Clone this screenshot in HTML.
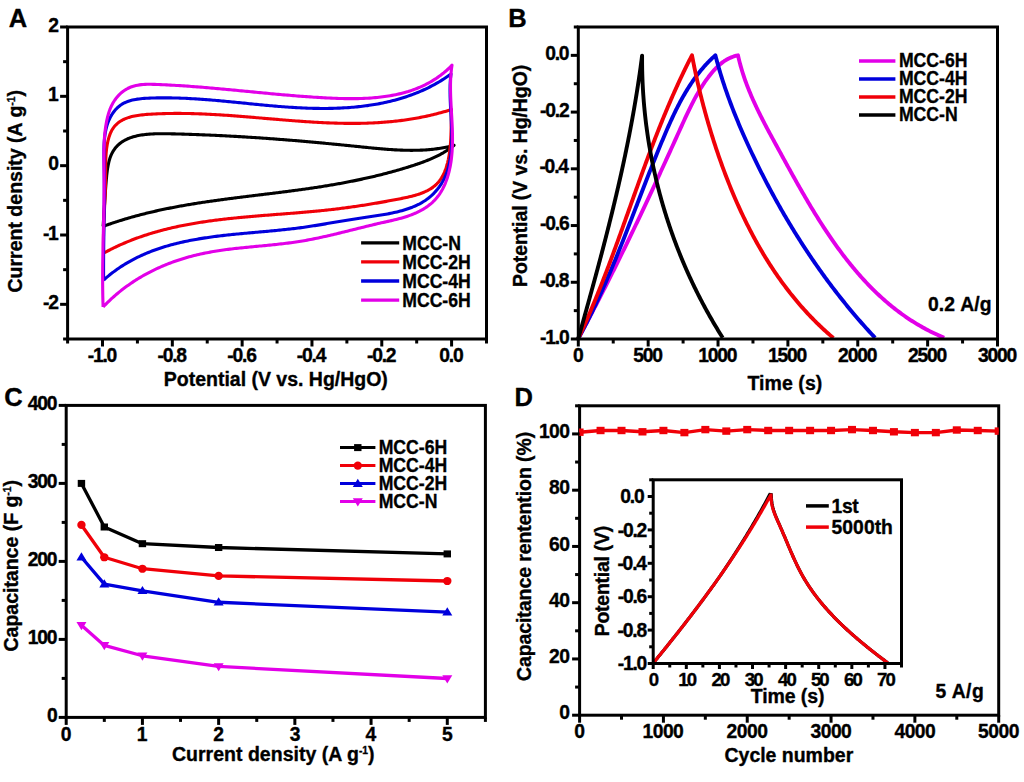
<!DOCTYPE html>
<html><head><meta charset="utf-8"><title>Figure</title>
<style>
html,body{margin:0;padding:0;background:#fff;}
svg{display:block;}
text{font-family:'Liberation Sans',Arial,sans-serif;font-weight:bold;stroke:#000;stroke-width:0.35px;stroke-linejoin:round;}
</style></head>
<body>
<svg width="1024" height="782" viewBox="0 0 1024 782">
<rect width="1024" height="782" fill="#fff"/>
<path d="M103.10,226.40 L103.21,224.86 L103.32,223.35 L103.42,221.85 L103.53,220.39 L103.62,218.94 L103.72,217.51 L103.81,216.10 L103.90,214.70 L103.99,213.32 L104.08,211.95 L104.16,210.59 L104.25,209.23 L104.33,207.89 L104.41,206.55 L104.50,205.22 L104.58,203.88 L104.66,202.55 L104.75,201.21 L104.83,199.88 L104.92,198.54 L105.01,197.19 L105.10,195.83 L105.19,194.47 L105.28,193.09 L105.38,191.70 L105.48,190.29 L105.58,188.87 L105.69,187.43 L105.80,185.97 L105.92,184.49 L106.03,182.99 L106.16,181.46 L106.29,179.91 L106.43,178.34 L106.57,176.76 L106.73,175.17 L106.91,173.57 L107.10,171.97 L107.31,170.38 L107.54,168.80 L107.80,167.22 L108.07,165.67 L108.38,164.14 L108.71,162.63 L109.08,161.15 L109.48,159.71 L109.91,158.31 L110.38,156.95 L110.89,155.64 L111.44,154.38 L112.03,153.17 L112.66,152.00 L113.33,150.88 L114.03,149.81 L114.76,148.78 L115.54,147.79 L116.34,146.85 L117.18,145.95 L118.05,145.09 L118.96,144.27 L119.89,143.49 L120.85,142.75 L121.85,142.04 L122.87,141.37 L123.92,140.74 L124.99,140.14 L126.10,139.57 L127.22,139.04 L128.38,138.54 L129.55,138.07 L130.75,137.63 L131.97,137.22 L133.21,136.84 L134.47,136.48 L135.75,136.15 L137.05,135.85 L138.37,135.57 L139.71,135.32 L141.06,135.08 L142.42,134.87 L143.81,134.68 L145.20,134.51 L146.61,134.36 L148.03,134.23 L149.46,134.12 L150.90,134.02 L152.36,133.93 L153.82,133.86 L155.29,133.81 L156.77,133.76 L158.25,133.73 L159.74,133.71 L161.24,133.70 L162.74,133.70 L164.24,133.71 L165.74,133.72 L167.25,133.74 L168.76,133.77 L170.27,133.80 L171.77,133.83 L173.28,133.87 L174.78,133.91 L176.29,133.94 L177.78,133.98 L179.28,134.03 L180.77,134.07 L182.26,134.11 L183.75,134.16 L185.24,134.20 L186.72,134.25 L188.20,134.29 L189.68,134.34 L191.15,134.39 L192.62,134.44 L194.09,134.49 L195.56,134.55 L197.03,134.60 L198.49,134.66 L199.95,134.71 L201.41,134.77 L202.87,134.83 L204.32,134.88 L205.77,134.94 L207.22,135.00 L208.67,135.07 L210.12,135.13 L211.56,135.19 L213.01,135.26 L214.45,135.32 L215.88,135.39 L217.32,135.46 L218.76,135.52 L220.19,135.59 L221.62,135.66 L223.05,135.74 L224.48,135.81 L225.91,135.88 L227.33,135.95 L228.75,136.03 L230.17,136.11 L231.59,136.18 L233.01,136.26 L234.43,136.34 L235.85,136.42 L237.26,136.50 L238.67,136.58 L240.09,136.66 L241.50,136.75 L242.91,136.83 L244.31,136.92 L245.72,137.00 L247.13,137.09 L248.53,137.18 L249.94,137.27 L251.34,137.36 L252.74,137.45 L254.14,137.54 L255.54,137.63 L256.94,137.72 L258.34,137.82 L259.74,137.91 L261.13,138.01 L262.53,138.10 L263.92,138.20 L265.32,138.30 L266.71,138.40 L268.10,138.50 L269.50,138.60 L270.89,138.70 L272.28,138.80 L273.67,138.91 L275.06,139.01 L276.45,139.12 L277.84,139.22 L279.23,139.33 L280.62,139.44 L282.01,139.55 L283.40,139.65 L284.79,139.76 L286.18,139.88 L287.56,139.99 L288.95,140.10 L290.34,140.21 L291.73,140.33 L293.12,140.44 L294.50,140.56 L295.89,140.67 L297.28,140.79 L298.67,140.91 L300.06,141.03 L301.45,141.14 L302.84,141.26 L304.22,141.39 L305.61,141.51 L307.00,141.63 L308.39,141.75 L309.79,141.88 L311.18,142.00 L312.57,142.13 L313.96,142.25 L315.35,142.38 L316.75,142.51 L318.14,142.63 L319.54,142.76 L320.93,142.89 L322.33,143.02 L323.72,143.15 L325.12,143.29 L326.52,143.42 L327.92,143.55 L329.32,143.68 L330.72,143.82 L332.12,143.95 L333.53,144.09 L334.93,144.23 L336.34,144.36 L337.74,144.50 L339.15,144.64 L340.56,144.78 L341.97,144.92 L343.38,145.06 L344.79,145.20 L346.20,145.34 L347.62,145.49 L349.04,145.63 L350.45,145.77 L351.87,145.92 L353.29,146.06 L354.72,146.21 L356.14,146.35 L357.56,146.50 L358.99,146.65 L360.42,146.80 L361.85,146.94 L363.28,147.09 L364.71,147.24 L366.15,147.39 L367.58,147.53 L369.02,147.68 L370.45,147.82 L371.89,147.96 L373.33,148.10 L374.77,148.24 L376.21,148.38 L377.65,148.51 L379.09,148.64 L380.53,148.77 L381.98,148.89 L383.42,149.02 L384.86,149.13 L386.30,149.25 L387.74,149.36 L389.19,149.46 L390.63,149.56 L392.07,149.65 L393.51,149.74 L394.95,149.83 L396.40,149.91 L397.84,149.98 L399.28,150.05 L400.71,150.11 L402.15,150.16 L403.59,150.21 L405.03,150.25 L406.46,150.28 L407.90,150.31 L409.33,150.32 L410.76,150.33 L412.19,150.33 L413.62,150.32 L415.05,150.31 L416.48,150.28 L417.90,150.25 L419.32,150.20 L420.74,150.15 L422.16,150.08 L423.58,150.01 L424.99,149.93 L426.41,149.83 L427.82,149.72 L429.23,149.61 L430.63,149.48 L432.04,149.34 L433.44,149.18 L434.84,149.02 L436.23,148.84 L437.63,148.65 L439.02,148.45 L440.40,148.23 L441.79,148.00 L443.17,147.76 L444.55,147.50 L445.92,147.23 L447.29,146.95 L448.66,146.65 L450.03,146.34 L451.39,146.01 L452.75,145.66 L454.10,145.30 L453.16,146.07 L452.20,146.81 L451.24,147.53 L450.27,148.24 L449.29,148.93 L448.30,149.61 L447.30,150.27 L446.30,150.92 L445.28,151.55 L444.26,152.17 L443.24,152.78 L442.20,153.37 L441.16,153.95 L440.11,154.52 L439.06,155.07 L438.00,155.61 L436.93,156.15 L435.86,156.67 L434.79,157.18 L433.70,157.68 L432.62,158.17 L431.52,158.65 L430.43,159.12 L429.33,159.59 L428.22,160.04 L427.11,160.49 L426.00,160.93 L424.88,161.36 L423.76,161.79 L422.63,162.20 L421.51,162.62 L420.38,163.02 L419.24,163.42 L418.11,163.82 L416.97,164.21 L415.83,164.59 L414.68,164.97 L413.54,165.35 L412.39,165.72 L411.24,166.09 L410.09,166.46 L408.94,166.82 L407.78,167.18 L406.63,167.54 L405.47,167.89 L404.32,168.24 L403.16,168.59 L402.00,168.94 L400.84,169.28 L399.68,169.62 L398.51,169.96 L397.35,170.29 L396.18,170.62 L395.01,170.95 L393.85,171.28 L392.68,171.60 L391.51,171.92 L390.34,172.24 L389.16,172.56 L387.99,172.87 L386.82,173.18 L385.64,173.49 L384.46,173.80 L383.29,174.10 L382.11,174.40 L380.93,174.70 L379.75,174.99 L378.57,175.28 L377.38,175.57 L376.20,175.86 L375.02,176.15 L373.83,176.43 L372.65,176.71 L371.46,176.99 L370.27,177.26 L369.08,177.53 L367.90,177.80 L366.71,178.07 L365.52,178.34 L364.33,178.60 L363.13,178.86 L361.94,179.12 L360.75,179.38 L359.56,179.63 L358.36,179.88 L357.17,180.13 L355.97,180.38 L354.78,180.63 L353.58,180.87 L352.38,181.11 L351.18,181.35 L349.99,181.59 L348.79,181.82 L347.59,182.05 L346.39,182.28 L345.19,182.51 L343.99,182.74 L342.79,182.96 L341.59,183.18 L340.39,183.41 L339.18,183.62 L337.98,183.84 L336.78,184.05 L335.58,184.27 L334.37,184.48 L333.17,184.68 L331.97,184.89 L330.76,185.09 L329.56,185.30 L328.35,185.50 L327.15,185.70 L325.95,185.89 L324.74,186.09 L323.54,186.28 L322.33,186.47 L321.13,186.66 L319.92,186.85 L318.71,187.04 L317.51,187.23 L316.30,187.41 L315.10,187.59 L313.89,187.77 L312.68,187.95 L311.48,188.13 L310.27,188.31 L309.06,188.48 L307.86,188.66 L306.65,188.83 L305.44,189.00 L304.24,189.17 L303.03,189.34 L301.82,189.51 L300.61,189.67 L299.41,189.84 L298.20,190.00 L296.99,190.17 L295.78,190.33 L294.58,190.49 L293.37,190.65 L292.16,190.81 L290.95,190.97 L289.74,191.13 L288.54,191.28 L287.33,191.44 L286.12,191.60 L284.91,191.75 L283.70,191.90 L282.50,192.06 L281.29,192.21 L280.08,192.36 L278.87,192.52 L277.66,192.67 L276.46,192.82 L275.25,192.97 L274.04,193.12 L272.83,193.27 L271.62,193.42 L270.42,193.56 L269.21,193.71 L268.00,193.86 L266.79,194.01 L265.59,194.16 L264.38,194.30 L263.17,194.45 L261.96,194.60 L260.76,194.75 L259.55,194.89 L258.34,195.04 L257.14,195.19 L255.93,195.33 L254.72,195.48 L253.52,195.63 L252.31,195.78 L251.10,195.92 L249.90,196.07 L248.69,196.22 L247.49,196.37 L246.28,196.52 L245.07,196.67 L243.87,196.82 L242.66,196.97 L241.46,197.12 L240.25,197.27 L239.05,197.42 L237.84,197.57 L236.64,197.72 L235.44,197.88 L234.23,198.03 L233.03,198.18 L231.83,198.34 L230.62,198.49 L229.42,198.65 L228.22,198.81 L227.01,198.96 L225.81,199.12 L224.61,199.28 L223.41,199.44 L222.21,199.61 L221.01,199.77 L219.80,199.93 L218.60,200.10 L217.40,200.26 L216.20,200.43 L215.00,200.60 L213.80,200.76 L212.60,200.93 L211.41,201.11 L210.21,201.28 L209.01,201.45 L207.81,201.63 L206.61,201.80 L205.41,201.98 L204.22,202.16 L203.02,202.34 L201.82,202.53 L200.63,202.71 L199.43,202.89 L198.24,203.08 L197.04,203.27 L195.85,203.46 L194.65,203.65 L193.46,203.85 L192.27,204.04 L191.07,204.24 L189.88,204.44 L188.69,204.64 L187.50,204.84 L186.31,205.05 L185.11,205.25 L183.92,205.46 L182.73,205.67 L181.54,205.88 L180.36,206.10 L179.17,206.31 L177.98,206.53 L176.79,206.75 L175.60,206.98 L174.42,207.20 L173.23,207.43 L172.04,207.66 L170.86,207.89 L169.67,208.13 L168.49,208.36 L167.30,208.60 L166.12,208.84 L164.94,209.09 L163.75,209.33 L162.57,209.58 L161.39,209.84 L160.21,210.09 L159.03,210.35 L157.85,210.61 L156.67,210.87 L155.49,211.13 L154.31,211.40 L153.14,211.67 L151.96,211.95 L150.78,212.22 L149.61,212.50 L148.43,212.78 L147.26,213.07 L146.08,213.36 L144.91,213.65 L143.73,213.94 L142.56,214.24 L141.39,214.54 L140.22,214.84 L139.05,215.15 L137.88,215.46 L136.71,215.77 L135.54,216.09 L134.37,216.41 L133.21,216.73 L132.04,217.05 L130.87,217.38 L129.71,217.72 L128.54,218.05 L127.38,218.39 L126.22,218.74 L125.05,219.08 L123.89,219.44 L122.73,219.79 L121.57,220.15 L120.41,220.51 L119.25,220.87 L118.09,221.24 L116.93,221.62 L115.78,221.99 L114.62,222.37 L113.46,222.76 L112.31,223.15 L111.16,223.54 L110.00,223.93 L108.85,224.33 L107.70,224.74 L106.55,225.15 L105.40,225.56 L104.25,225.98 L103.10,226.40" fill="none" stroke="#000" stroke-width="3.1" stroke-linejoin="round" stroke-linecap="butt"/>
<path d="M103.60,253.20 L103.55,251.51 L103.52,249.83 L103.49,248.17 L103.46,246.52 L103.45,244.88 L103.44,243.24 L103.44,241.62 L103.45,240.01 L103.46,238.41 L103.48,236.82 L103.50,235.24 L103.53,233.66 L103.56,232.10 L103.60,230.54 L103.64,228.98 L103.69,227.43 L103.74,225.89 L103.79,224.35 L103.85,222.82 L103.91,221.29 L103.98,219.77 L104.04,218.25 L104.11,216.73 L104.18,215.21 L104.25,213.70 L104.32,212.18 L104.39,210.67 L104.47,209.16 L104.54,207.65 L104.61,206.13 L104.69,204.62 L104.76,203.10 L104.83,201.58 L104.90,200.06 L104.97,198.54 L105.04,197.01 L105.10,195.48 L105.17,193.94 L105.23,192.40 L105.29,190.86 L105.34,189.31 L105.39,187.75 L105.44,186.18 L105.48,184.61 L105.52,183.03 L105.55,181.44 L105.58,179.84 L105.60,178.23 L105.62,176.62 L105.63,174.99 L105.64,173.35 L105.64,171.70 L105.64,170.05 L105.65,168.38 L105.65,166.71 L105.67,165.04 L105.69,163.36 L105.73,161.67 L105.77,159.98 L105.84,158.29 L105.92,156.60 L106.02,154.91 L106.14,153.22 L106.29,151.53 L106.47,149.84 L106.68,148.16 L106.92,146.48 L107.19,144.80 L107.50,143.13 L107.85,141.48 L108.24,139.84 L108.67,138.24 L109.15,136.67 L109.67,135.13 L110.25,133.65 L110.87,132.22 L111.55,130.84 L112.28,129.54 L113.06,128.31 L113.91,127.14 L114.80,126.05 L115.74,125.02 L116.74,124.05 L117.78,123.15 L118.86,122.30 L119.99,121.51 L121.16,120.78 L122.36,120.10 L123.61,119.47 L124.89,118.88 L126.21,118.34 L127.55,117.85 L128.93,117.40 L130.33,116.99 L131.76,116.61 L133.22,116.27 L134.69,115.96 L136.19,115.68 L137.70,115.44 L139.24,115.21 L140.78,115.01 L142.34,114.84 L143.91,114.68 L145.49,114.54 L147.08,114.41 L148.67,114.30 L150.27,114.20 L151.86,114.10 L153.46,114.02 L155.06,113.94 L156.65,113.86 L158.25,113.79 L159.85,113.73 L161.44,113.68 L163.04,113.63 L164.63,113.58 L166.23,113.54 L167.82,113.51 L169.41,113.48 L171.01,113.46 L172.60,113.44 L174.19,113.42 L175.79,113.42 L177.38,113.41 L178.97,113.42 L180.56,113.42 L182.15,113.43 L183.74,113.45 L185.33,113.47 L186.92,113.50 L188.51,113.53 L190.10,113.56 L191.69,113.60 L193.28,113.64 L194.87,113.69 L196.46,113.74 L198.04,113.79 L199.63,113.85 L201.22,113.91 L202.80,113.97 L204.39,114.04 L205.98,114.11 L207.56,114.19 L209.15,114.27 L210.73,114.35 L212.32,114.43 L213.90,114.52 L215.49,114.61 L217.07,114.70 L218.65,114.80 L220.24,114.90 L221.82,115.00 L223.40,115.10 L224.98,115.20 L226.57,115.31 L228.15,115.42 L229.73,115.53 L231.31,115.65 L232.89,115.76 L234.47,115.88 L236.05,116.00 L237.63,116.12 L239.21,116.24 L240.79,116.37 L242.37,116.49 L243.94,116.62 L245.52,116.75 L247.10,116.88 L248.68,117.01 L250.26,117.14 L251.83,117.27 L253.41,117.40 L254.99,117.53 L256.56,117.67 L258.14,117.80 L259.71,117.93 L261.29,118.07 L262.86,118.20 L264.44,118.34 L266.01,118.47 L267.59,118.61 L269.16,118.74 L270.73,118.88 L272.31,119.01 L273.88,119.15 L275.45,119.28 L277.02,119.41 L278.60,119.55 L280.17,119.68 L281.74,119.81 L283.31,119.94 L284.88,120.07 L286.45,120.19 L288.02,120.32 L289.59,120.44 L291.16,120.57 L292.73,120.69 L294.30,120.81 L295.87,120.93 L297.44,121.05 L299.00,121.16 L300.57,121.28 L302.14,121.39 L303.71,121.50 L305.28,121.61 L306.84,121.71 L308.41,121.81 L309.98,121.92 L311.54,122.01 L313.11,122.11 L314.67,122.20 L316.24,122.29 L317.80,122.38 L319.37,122.46 L320.93,122.54 L322.50,122.62 L324.06,122.70 L325.62,122.77 L327.19,122.84 L328.75,122.90 L330.31,122.96 L331.88,123.02 L333.44,123.07 L335.00,123.12 L336.56,123.17 L338.13,123.21 L339.69,123.25 L341.25,123.28 L342.81,123.31 L344.37,123.33 L345.93,123.36 L347.49,123.37 L349.05,123.38 L350.61,123.39 L352.17,123.39 L353.73,123.39 L355.29,123.38 L356.85,123.37 L358.40,123.35 L359.96,123.33 L361.52,123.30 L363.08,123.26 L364.64,123.22 L366.19,123.18 L367.75,123.13 L369.31,123.07 L370.86,123.01 L372.42,122.94 L373.98,122.86 L375.53,122.78 L377.09,122.70 L378.64,122.60 L380.20,122.50 L381.75,122.40 L383.31,122.28 L384.86,122.17 L386.42,122.04 L387.97,121.91 L389.52,121.77 L391.08,121.62 L392.63,121.47 L394.18,121.31 L395.74,121.14 L397.29,120.96 L398.84,120.78 L400.39,120.59 L401.95,120.39 L403.50,120.18 L405.05,119.97 L406.60,119.75 L408.15,119.52 L409.70,119.28 L411.25,119.04 L412.80,118.78 L414.36,118.52 L415.91,118.25 L417.46,117.97 L419.00,117.68 L420.55,117.39 L422.10,117.08 L423.65,116.77 L425.20,116.44 L426.75,116.11 L428.30,115.77 L429.85,115.42 L431.39,115.06 L432.94,114.69 L434.49,114.31 L436.04,113.92 L437.58,113.53 L439.13,113.12 L440.68,112.70 L442.23,112.28 L443.77,111.84 L445.32,111.39 L446.86,110.93 L448.41,110.47 L449.96,109.99 L451.50,109.50 L451.46,110.72 L451.42,111.96 L451.39,113.22 L451.36,114.51 L451.34,115.82 L451.32,117.16 L451.30,118.51 L451.28,119.88 L451.26,121.27 L451.24,122.68 L451.22,124.10 L451.20,125.53 L451.18,126.98 L451.15,128.44 L451.12,129.91 L451.08,131.39 L451.03,132.88 L450.98,134.37 L450.92,135.88 L450.85,137.38 L450.78,138.89 L450.69,140.40 L450.59,141.91 L450.48,143.43 L450.36,144.94 L450.22,146.44 L450.07,147.95 L449.91,149.45 L449.73,150.94 L449.53,152.43 L449.31,153.91 L449.08,155.38 L448.83,156.84 L448.56,158.28 L448.27,159.72 L447.95,161.13 L447.62,162.54 L447.26,163.92 L446.88,165.29 L446.47,166.64 L446.04,167.97 L445.58,169.28 L445.09,170.57 L444.58,171.83 L444.04,173.06 L443.47,174.28 L442.87,175.46 L442.24,176.61 L441.57,177.74 L440.88,178.83 L440.15,179.90 L439.38,180.93 L438.59,181.92 L437.75,182.88 L436.88,183.80 L435.97,184.69 L435.03,185.53 L434.05,186.35 L433.04,187.12 L432.00,187.87 L430.92,188.58 L429.81,189.26 L428.68,189.91 L427.52,190.53 L426.33,191.12 L425.12,191.69 L423.89,192.23 L422.63,192.75 L421.35,193.24 L420.05,193.72 L418.74,194.17 L417.41,194.60 L416.06,195.01 L414.70,195.41 L413.32,195.79 L411.94,196.15 L410.54,196.50 L409.13,196.84 L407.72,197.17 L406.30,197.48 L404.87,197.79 L403.44,198.09 L402.01,198.38 L400.57,198.66 L399.14,198.95 L397.71,199.22 L396.28,199.50 L394.85,199.77 L393.42,200.04 L392.00,200.31 L390.58,200.57 L389.16,200.84 L387.74,201.10 L386.32,201.36 L384.91,201.61 L383.50,201.87 L382.09,202.12 L380.68,202.37 L379.27,202.61 L377.86,202.86 L376.46,203.10 L375.06,203.34 L373.66,203.57 L372.25,203.81 L370.86,204.04 L369.46,204.27 L368.06,204.49 L366.66,204.72 L365.27,204.94 L363.87,205.16 L362.48,205.38 L361.09,205.59 L359.70,205.80 L358.30,206.01 L356.91,206.22 L355.52,206.42 L354.13,206.63 L352.74,206.83 L351.35,207.02 L349.96,207.22 L348.57,207.41 L347.18,207.60 L345.79,207.79 L344.40,207.97 L343.01,208.15 L341.61,208.33 L340.22,208.51 L338.83,208.68 L337.44,208.85 L336.04,209.02 L334.65,209.19 L333.26,209.35 L331.86,209.51 L330.46,209.67 L329.07,209.83 L327.67,209.98 L326.27,210.13 L324.87,210.28 L323.47,210.43 L322.07,210.57 L320.66,210.72 L319.26,210.86 L317.86,210.99 L316.45,211.13 L315.05,211.26 L313.64,211.40 L312.23,211.53 L310.82,211.65 L309.42,211.78 L308.01,211.91 L306.60,212.03 L305.19,212.15 L303.78,212.28 L302.36,212.40 L300.95,212.51 L299.54,212.63 L298.13,212.75 L296.71,212.86 L295.30,212.98 L293.88,213.09 L292.47,213.21 L291.05,213.32 L289.64,213.43 L288.22,213.54 L286.81,213.65 L285.39,213.76 L283.97,213.87 L282.56,213.98 L281.14,214.09 L279.72,214.20 L278.31,214.31 L276.89,214.42 L275.47,214.53 L274.05,214.64 L272.64,214.75 L271.22,214.86 L269.80,214.97 L268.38,215.08 L266.96,215.20 L265.55,215.31 L264.13,215.42 L262.71,215.54 L261.29,215.65 L259.88,215.77 L258.46,215.88 L257.04,216.00 L255.63,216.12 L254.21,216.24 L252.79,216.36 L251.38,216.48 L249.96,216.60 L248.54,216.73 L247.13,216.85 L245.71,216.98 L244.30,217.11 L242.89,217.24 L241.47,217.37 L240.06,217.51 L238.65,217.65 L237.23,217.78 L235.82,217.93 L234.41,218.07 L233.00,218.21 L231.59,218.36 L230.18,218.51 L228.77,218.66 L227.36,218.82 L225.96,218.98 L224.55,219.13 L223.14,219.30 L221.74,219.46 L220.33,219.63 L218.93,219.80 L217.53,219.98 L216.12,220.15 L214.72,220.33 L213.32,220.52 L211.92,220.70 L210.52,220.89 L209.13,221.09 L207.73,221.28 L206.33,221.49 L204.94,221.69 L203.55,221.90 L202.15,222.11 L200.76,222.32 L199.37,222.54 L197.98,222.77 L196.59,222.99 L195.21,223.23 L193.82,223.46 L192.43,223.70 L191.05,223.95 L189.67,224.20 L188.29,224.45 L186.91,224.71 L185.53,224.97 L184.15,225.24 L182.78,225.51 L181.40,225.78 L180.03,226.07 L178.66,226.35 L177.29,226.64 L175.92,226.94 L174.55,227.24 L173.19,227.55 L171.83,227.86 L170.46,228.18 L169.10,228.50 L167.74,228.83 L166.39,229.17 L165.03,229.51 L163.68,229.85 L162.32,230.20 L160.97,230.56 L159.62,230.92 L158.28,231.29 L156.93,231.67 L155.59,232.05 L154.25,232.44 L152.91,232.83 L151.57,233.23 L150.23,233.64 L148.90,234.06 L147.57,234.48 L146.24,234.90 L144.91,235.34 L143.58,235.78 L142.26,236.22 L140.94,236.68 L139.62,237.14 L138.30,237.61 L136.98,238.08 L135.67,238.57 L134.36,239.06 L133.05,239.55 L131.74,240.06 L130.44,240.57 L129.13,241.09 L127.83,241.62 L126.54,242.16 L125.24,242.70 L123.95,243.25 L122.66,243.81 L121.37,244.38 L120.08,244.95 L118.80,245.53 L117.52,246.13 L116.24,246.73 L114.96,247.33 L113.69,247.95 L112.42,248.58 L111.15,249.21 L109.89,249.85 L108.62,250.50 L107.36,251.16 L106.10,251.83 L104.85,252.51 L103.60,253.20" fill="none" stroke="#f00008" stroke-width="3.1" stroke-linejoin="round" stroke-linecap="butt"/>
<path d="M103.60,280.10 L103.59,278.26 L103.58,276.44 L103.57,274.62 L103.56,272.81 L103.56,271.01 L103.56,269.22 L103.56,267.43 L103.57,265.66 L103.57,263.89 L103.58,262.13 L103.59,260.37 L103.60,258.62 L103.61,256.88 L103.62,255.14 L103.64,253.41 L103.65,251.68 L103.67,249.96 L103.69,248.24 L103.71,246.53 L103.73,244.82 L103.75,243.11 L103.77,241.41 L103.79,239.71 L103.82,238.02 L103.84,236.33 L103.87,234.64 L103.89,232.95 L103.91,231.26 L103.94,229.58 L103.96,227.89 L103.99,226.21 L104.01,224.53 L104.04,222.85 L104.06,221.17 L104.09,219.49 L104.11,217.80 L104.13,216.12 L104.15,214.44 L104.17,212.75 L104.19,211.07 L104.21,209.38 L104.23,207.69 L104.25,205.99 L104.27,204.30 L104.28,202.60 L104.29,200.90 L104.31,199.19 L104.32,197.48 L104.32,195.77 L104.33,194.05 L104.34,192.32 L104.34,190.60 L104.34,188.86 L104.34,187.12 L104.34,185.38 L104.33,183.63 L104.32,181.87 L104.31,180.11 L104.30,178.33 L104.28,176.55 L104.27,174.77 L104.24,172.97 L104.22,171.17 L104.19,169.36 L104.16,167.54 L104.13,165.71 L104.09,163.87 L104.06,162.03 L104.02,160.18 L103.99,158.32 L103.96,156.46 L103.94,154.60 L103.94,152.74 L103.94,150.88 L103.96,149.02 L104.01,147.17 L104.07,145.33 L104.15,143.50 L104.27,141.67 L104.41,139.86 L104.58,138.07 L104.78,136.29 L105.02,134.52 L105.30,132.78 L105.62,131.05 L105.99,129.35 L106.40,127.67 L106.85,126.02 L107.36,124.40 L107.91,122.80 L108.50,121.24 L109.15,119.72 L109.85,118.23 L110.59,116.79 L111.38,115.38 L112.22,114.03 L113.11,112.71 L114.05,111.45 L115.04,110.24 L116.07,109.09 L117.16,107.99 L118.30,106.95 L119.49,105.97 L120.72,105.05 L122.01,104.20 L123.35,103.42 L124.74,102.71 L126.18,102.07 L127.66,101.49 L129.19,100.97 L130.76,100.51 L132.36,100.10 L133.99,99.74 L135.65,99.42 L137.34,99.15 L139.06,98.92 L140.79,98.72 L142.54,98.55 L144.31,98.41 L146.08,98.30 L147.87,98.20 L149.65,98.12 L151.44,98.06 L153.23,98.00 L155.02,97.95 L156.81,97.92 L158.59,97.89 L160.37,97.86 L162.15,97.85 L163.92,97.84 L165.70,97.85 L167.47,97.86 L169.24,97.87 L171.01,97.90 L172.78,97.93 L174.55,97.96 L176.31,98.01 L178.08,98.06 L179.84,98.12 L181.60,98.18 L183.36,98.25 L185.11,98.32 L186.87,98.41 L188.62,98.49 L190.37,98.58 L192.13,98.68 L193.88,98.78 L195.62,98.89 L197.37,99.00 L199.12,99.12 L200.86,99.24 L202.61,99.36 L204.35,99.49 L206.09,99.62 L207.83,99.76 L209.57,99.90 L211.31,100.04 L213.05,100.18 L214.78,100.33 L216.52,100.48 L218.25,100.64 L219.99,100.80 L221.72,100.95 L223.46,101.12 L225.19,101.28 L226.92,101.44 L228.65,101.61 L230.38,101.78 L232.11,101.95 L233.84,102.12 L235.57,102.29 L237.29,102.46 L239.02,102.64 L240.75,102.81 L242.48,102.98 L244.20,103.16 L245.93,103.33 L247.65,103.51 L249.38,103.68 L251.10,103.85 L252.83,104.03 L254.56,104.20 L256.28,104.37 L258.01,104.54 L259.73,104.71 L261.46,104.87 L263.18,105.04 L264.91,105.20 L266.63,105.36 L268.36,105.52 L270.08,105.68 L271.81,105.83 L273.53,105.98 L275.26,106.13 L276.99,106.28 L278.71,106.42 L280.44,106.56 L282.17,106.69 L283.90,106.82 L285.63,106.95 L287.36,107.07 L289.09,107.19 L290.82,107.31 L292.55,107.42 L294.28,107.53 L296.01,107.63 L297.74,107.72 L299.48,107.81 L301.21,107.90 L302.95,107.98 L304.69,108.05 L306.42,108.12 L308.16,108.19 L309.90,108.24 L311.64,108.29 L313.38,108.33 L315.12,108.37 L316.87,108.40 L318.61,108.42 L320.36,108.44 L322.11,108.45 L323.85,108.45 L325.60,108.44 L327.35,108.43 L329.10,108.40 L330.85,108.37 L332.60,108.33 L334.35,108.29 L336.10,108.23 L337.85,108.17 L339.60,108.09 L341.35,108.01 L343.10,107.92 L344.85,107.82 L346.60,107.71 L348.35,107.59 L350.10,107.46 L351.84,107.32 L353.58,107.17 L355.33,107.01 L357.07,106.84 L358.81,106.66 L360.55,106.46 L362.28,106.26 L364.01,106.05 L365.75,105.82 L367.48,105.59 L369.20,105.34 L370.93,105.08 L372.65,104.81 L374.37,104.53 L376.08,104.23 L377.80,103.93 L379.50,103.61 L381.21,103.27 L382.91,102.93 L384.61,102.57 L386.31,102.20 L388.00,101.82 L389.69,101.42 L391.37,101.01 L393.05,100.59 L394.72,100.15 L396.39,99.70 L398.06,99.24 L399.72,98.76 L401.38,98.26 L403.03,97.75 L404.67,97.23 L406.31,96.69 L407.95,96.14 L409.58,95.57 L411.20,94.99 L412.82,94.39 L414.43,93.78 L416.04,93.15 L417.64,92.51 L419.23,91.84 L420.82,91.17 L422.40,90.47 L423.97,89.76 L425.54,89.04 L427.10,88.29 L428.65,87.53 L430.20,86.76 L431.73,85.96 L433.27,85.15 L434.79,84.32 L436.30,83.47 L437.81,82.61 L439.31,81.73 L440.80,80.83 L442.28,79.91 L443.76,78.97 L445.22,78.01 L446.68,77.04 L448.13,76.04 L449.57,75.03 L451.00,74.00 L450.82,75.38 L450.65,76.78 L450.51,78.20 L450.39,79.63 L450.29,81.08 L450.20,82.55 L450.13,84.03 L450.08,85.53 L450.05,87.04 L450.02,88.56 L450.02,90.10 L450.02,91.65 L450.04,93.21 L450.07,94.78 L450.10,96.37 L450.15,97.96 L450.21,99.57 L450.27,101.18 L450.34,102.80 L450.41,104.43 L450.49,106.07 L450.58,107.71 L450.66,109.36 L450.75,111.02 L450.84,112.68 L450.93,114.34 L451.02,116.01 L451.11,117.68 L451.19,119.35 L451.28,121.03 L451.35,122.71 L451.43,124.39 L451.50,126.07 L451.56,127.74 L451.61,129.42 L451.65,131.10 L451.69,132.77 L451.71,134.44 L451.72,136.11 L451.72,137.78 L451.71,139.44 L451.69,141.09 L451.64,142.74 L451.59,144.39 L451.51,146.03 L451.42,147.66 L451.31,149.28 L451.18,150.89 L451.04,152.50 L450.87,154.09 L450.67,155.68 L450.46,157.25 L450.22,158.82 L449.96,160.37 L449.67,161.91 L449.35,163.43 L449.01,164.94 L448.64,166.44 L448.24,167.92 L447.81,169.39 L447.35,170.84 L446.86,172.28 L446.33,173.70 L445.77,175.10 L445.18,176.48 L444.55,177.84 L443.90,179.19 L443.20,180.51 L442.48,181.81 L441.73,183.09 L440.94,184.35 L440.12,185.59 L439.28,186.80 L438.40,187.99 L437.49,189.16 L436.55,190.30 L435.59,191.42 L434.59,192.50 L433.57,193.57 L432.52,194.60 L431.44,195.61 L430.33,196.58 L429.20,197.53 L428.04,198.45 L426.85,199.34 L425.64,200.19 L424.40,201.02 L423.14,201.81 L421.86,202.58 L420.55,203.32 L419.22,204.03 L417.87,204.71 L416.49,205.37 L415.10,206.00 L413.69,206.60 L412.26,207.19 L410.81,207.75 L409.35,208.28 L407.87,208.80 L406.37,209.30 L404.86,209.77 L403.34,210.23 L401.80,210.67 L400.25,211.09 L398.69,211.49 L397.12,211.88 L395.53,212.25 L393.94,212.61 L392.34,212.95 L390.73,213.29 L389.12,213.61 L387.49,213.92 L385.87,214.21 L384.23,214.50 L382.60,214.78 L380.96,215.05 L379.32,215.32 L377.67,215.58 L376.03,215.83 L374.38,216.08 L372.73,216.32 L371.09,216.56 L369.45,216.80 L367.81,217.03 L366.17,217.27 L364.54,217.50 L362.91,217.73 L361.29,217.97 L359.68,218.21 L358.07,218.45 L356.47,218.69 L354.87,218.94 L353.28,219.19 L351.70,219.44 L350.13,219.69 L348.56,219.95 L346.99,220.20 L345.43,220.46 L343.88,220.72 L342.32,220.98 L340.78,221.24 L339.24,221.50 L337.70,221.76 L336.16,222.03 L334.63,222.29 L333.10,222.55 L331.57,222.81 L330.05,223.07 L328.53,223.33 L327.01,223.59 L325.49,223.85 L323.97,224.10 L322.46,224.36 L320.94,224.61 L319.43,224.86 L317.91,225.11 L316.40,225.35 L314.88,225.60 L313.37,225.84 L311.85,226.07 L310.34,226.31 L308.82,226.54 L307.30,226.77 L305.77,226.99 L304.25,227.21 L302.72,227.42 L301.19,227.63 L299.66,227.84 L298.13,228.04 L296.59,228.23 L295.05,228.43 L293.50,228.61 L291.95,228.80 L290.40,228.98 L288.85,229.15 L287.30,229.33 L285.74,229.50 L284.18,229.66 L282.62,229.83 L281.05,229.99 L279.49,230.14 L277.92,230.30 L276.35,230.45 L274.78,230.60 L273.20,230.75 L271.63,230.90 L270.05,231.05 L268.47,231.19 L266.89,231.34 L265.31,231.48 L263.73,231.62 L262.15,231.76 L260.56,231.90 L258.98,232.04 L257.39,232.18 L255.80,232.32 L254.21,232.46 L252.63,232.60 L251.04,232.74 L249.45,232.89 L247.86,233.03 L246.27,233.17 L244.67,233.32 L243.08,233.47 L241.49,233.62 L239.90,233.77 L238.31,233.92 L236.72,234.07 L235.13,234.23 L233.54,234.39 L231.95,234.55 L230.36,234.72 L228.77,234.88 L227.18,235.06 L225.60,235.23 L224.01,235.41 L222.42,235.59 L220.84,235.78 L219.26,235.97 L217.67,236.16 L216.09,236.36 L214.51,236.56 L212.94,236.77 L211.36,236.99 L209.78,237.20 L208.21,237.43 L206.64,237.66 L205.07,237.89 L203.50,238.13 L201.94,238.38 L200.37,238.63 L198.81,238.89 L197.25,239.16 L195.70,239.43 L194.14,239.71 L192.59,240.00 L191.04,240.29 L189.50,240.59 L187.95,240.90 L186.41,241.22 L184.87,241.55 L183.34,241.88 L181.81,242.22 L180.28,242.57 L178.75,242.93 L177.23,243.30 L175.71,243.67 L174.20,244.06 L172.69,244.45 L171.18,244.86 L169.68,245.27 L168.18,245.70 L166.68,246.13 L165.19,246.58 L163.70,247.03 L162.22,247.50 L160.74,247.98 L159.26,248.46 L157.79,248.96 L156.33,249.47 L154.87,250.00 L153.41,250.53 L151.96,251.07 L150.51,251.63 L149.07,252.20 L147.63,252.78 L146.20,253.38 L144.77,253.99 L143.35,254.61 L141.94,255.24 L140.53,255.89 L139.12,256.55 L137.72,257.22 L136.33,257.91 L134.94,258.61 L133.56,259.32 L132.18,260.05 L130.81,260.80 L129.45,261.56 L128.09,262.33 L126.74,263.12 L125.40,263.93 L124.06,264.75 L122.73,265.58 L121.40,266.43 L120.09,267.30 L118.77,268.18 L117.47,269.08 L116.17,270.00 L114.88,270.93 L113.60,271.88 L112.32,272.85 L111.05,273.83 L109.79,274.83 L108.54,275.85 L107.29,276.88 L106.05,277.94 L104.82,279.01 L103.60,280.10" fill="none" stroke="#0000dc" stroke-width="3.1" stroke-linejoin="round" stroke-linecap="butt"/>
<path d="M103.10,307.00 L103.04,305.08 L102.98,303.17 L102.92,301.26 L102.88,299.35 L102.83,297.45 L102.79,295.55 L102.76,293.65 L102.73,291.75 L102.70,289.86 L102.68,287.97 L102.67,286.08 L102.65,284.19 L102.64,282.31 L102.64,280.43 L102.64,278.55 L102.64,276.67 L102.64,274.80 L102.65,272.92 L102.66,271.05 L102.68,269.18 L102.69,267.31 L102.71,265.45 L102.73,263.58 L102.76,261.72 L102.78,259.85 L102.81,257.99 L102.84,256.13 L102.88,254.27 L102.91,252.41 L102.94,250.56 L102.98,248.70 L103.02,246.84 L103.06,244.99 L103.10,243.13 L103.14,241.28 L103.18,239.42 L103.22,237.57 L103.26,235.71 L103.31,233.86 L103.35,232.00 L103.39,230.15 L103.43,228.30 L103.48,226.44 L103.52,224.59 L103.56,222.73 L103.60,220.87 L103.64,219.02 L103.68,217.16 L103.72,215.30 L103.75,213.44 L103.79,211.58 L103.82,209.72 L103.86,207.86 L103.89,205.99 L103.91,204.13 L103.94,202.26 L103.97,200.39 L103.99,198.52 L104.01,196.65 L104.02,194.78 L104.04,192.90 L104.05,191.03 L104.06,189.15 L104.06,187.27 L104.07,185.38 L104.07,183.50 L104.06,181.61 L104.05,179.72 L104.04,177.83 L104.02,175.93 L104.00,174.03 L103.98,172.13 L103.95,170.23 L103.93,168.32 L103.90,166.42 L103.88,164.51 L103.86,162.60 L103.84,160.68 L103.83,158.77 L103.83,156.86 L103.83,154.94 L103.84,153.03 L103.87,151.11 L103.90,149.20 L103.95,147.29 L104.02,145.37 L104.10,143.46 L104.19,141.55 L104.31,139.64 L104.44,137.73 L104.60,135.82 L104.77,133.91 L104.98,132.01 L105.20,130.11 L105.45,128.21 L105.73,126.31 L106.04,124.42 L106.38,122.53 L106.75,120.65 L107.15,118.77 L107.59,116.91 L108.08,115.07 L108.61,113.24 L109.19,111.45 L109.82,109.69 L110.51,107.97 L111.26,106.28 L112.07,104.64 L112.94,103.05 L113.87,101.51 L114.85,100.02 L115.89,98.58 L116.99,97.20 L118.15,95.88 L119.35,94.62 L120.61,93.42 L121.93,92.29 L123.29,91.23 L124.71,90.24 L126.17,89.33 L127.68,88.49 L129.25,87.73 L130.85,87.05 L132.51,86.46 L134.21,85.95 L135.95,85.52 L137.73,85.17 L139.55,84.88 L141.40,84.66 L143.27,84.50 L145.17,84.39 L147.09,84.32 L149.02,84.30 L150.97,84.30 L152.93,84.34 L154.89,84.39 L156.85,84.46 L158.81,84.54 L160.77,84.62 L162.72,84.71 L164.67,84.80 L166.61,84.90 L168.55,85.00 L170.48,85.10 L172.41,85.21 L174.33,85.32 L176.25,85.43 L178.17,85.54 L180.08,85.66 L181.99,85.79 L183.89,85.91 L185.79,86.04 L187.69,86.17 L189.58,86.31 L191.47,86.44 L193.35,86.58 L195.24,86.72 L197.12,86.87 L198.99,87.01 L200.87,87.16 L202.74,87.32 L204.61,87.47 L206.47,87.62 L208.34,87.78 L210.20,87.94 L212.05,88.10 L213.91,88.26 L215.77,88.43 L217.62,88.59 L219.47,88.76 L221.32,88.93 L223.17,89.10 L225.01,89.27 L226.86,89.44 L228.70,89.61 L230.54,89.79 L232.38,89.96 L234.22,90.14 L236.06,90.31 L237.90,90.49 L239.73,90.67 L241.57,90.84 L243.41,91.02 L245.24,91.20 L247.08,91.38 L248.92,91.56 L250.75,91.74 L252.59,91.91 L254.42,92.09 L256.26,92.27 L258.09,92.45 L259.93,92.62 L261.77,92.80 L263.61,92.98 L265.44,93.15 L267.28,93.32 L269.12,93.50 L270.97,93.67 L272.81,93.84 L274.65,94.01 L276.50,94.18 L278.35,94.35 L280.20,94.51 L282.05,94.68 L283.90,94.84 L285.75,95.00 L287.61,95.16 L289.47,95.32 L291.33,95.48 L293.19,95.63 L295.06,95.79 L296.92,95.94 L298.80,96.08 L300.67,96.23 L302.55,96.37 L304.43,96.51 L306.31,96.65 L308.19,96.79 L310.08,96.92 L311.97,97.05 L313.87,97.18 L315.77,97.30 L317.67,97.42 L319.58,97.54 L321.49,97.65 L323.41,97.76 L325.32,97.87 L327.24,97.97 L329.17,98.07 L331.09,98.16 L333.02,98.24 L334.95,98.32 L336.88,98.39 L338.81,98.45 L340.74,98.51 L342.67,98.56 L344.60,98.59 L346.53,98.62 L348.46,98.64 L350.39,98.65 L352.32,98.65 L354.25,98.64 L356.18,98.61 L358.10,98.58 L360.02,98.53 L361.94,98.47 L363.86,98.39 L365.77,98.31 L367.68,98.20 L369.59,98.09 L371.49,97.96 L373.39,97.81 L375.28,97.64 L377.17,97.47 L379.05,97.27 L380.92,97.06 L382.79,96.82 L384.66,96.57 L386.52,96.31 L388.37,96.02 L390.21,95.71 L392.05,95.39 L393.88,95.04 L395.70,94.67 L397.51,94.28 L399.31,93.87 L401.11,93.44 L402.89,92.98 L404.67,92.50 L406.43,92.00 L408.19,91.48 L409.93,90.92 L411.67,90.35 L413.39,89.75 L415.10,89.12 L416.80,88.47 L418.49,87.79 L420.17,87.08 L421.83,86.35 L423.48,85.59 L425.12,84.80 L426.75,83.98 L428.36,83.13 L429.95,82.25 L431.53,81.34 L433.10,80.40 L434.65,79.43 L436.19,78.43 L437.71,77.40 L439.22,76.33 L440.71,75.23 L442.18,74.10 L443.64,72.93 L445.07,71.73 L446.50,70.50 L447.90,69.23 L449.29,67.92 L450.65,66.58 L452.00,65.20 L451.77,66.77 L451.55,68.34 L451.36,69.92 L451.19,71.50 L451.05,73.09 L450.92,74.69 L450.81,76.29 L450.72,77.90 L450.64,79.52 L450.58,81.14 L450.54,82.77 L450.51,84.40 L450.50,86.04 L450.50,87.68 L450.51,89.33 L450.53,90.98 L450.56,92.63 L450.61,94.29 L450.66,95.96 L450.72,97.62 L450.79,99.29 L450.86,100.97 L450.94,102.65 L451.03,104.33 L451.12,106.01 L451.21,107.69 L451.30,109.38 L451.40,111.07 L451.50,112.77 L451.59,114.46 L451.69,116.16 L451.79,117.85 L451.88,119.55 L451.97,121.25 L452.05,122.95 L452.13,124.66 L452.20,126.36 L452.27,128.06 L452.33,129.77 L452.38,131.47 L452.42,133.17 L452.46,134.87 L452.48,136.58 L452.49,138.28 L452.49,139.98 L452.47,141.68 L452.44,143.38 L452.40,145.08 L452.34,146.77 L452.26,148.46 L452.17,150.16 L452.06,151.85 L451.92,153.53 L451.77,155.22 L451.60,156.90 L451.41,158.58 L451.20,160.25 L450.96,161.93 L450.70,163.60 L450.41,165.26 L450.10,166.91 L449.76,168.56 L449.40,170.20 L449.01,171.83 L448.60,173.44 L448.15,175.05 L447.68,176.63 L447.18,178.20 L446.65,179.76 L446.08,181.29 L445.49,182.81 L444.87,184.30 L444.21,185.78 L443.52,187.22 L442.80,188.65 L442.04,190.04 L441.25,191.41 L440.42,192.75 L439.56,194.06 L438.66,195.34 L437.73,196.59 L436.76,197.80 L435.74,198.97 L434.69,200.11 L433.61,201.22 L432.49,202.28 L431.33,203.32 L430.14,204.32 L428.92,205.29 L427.67,206.22 L426.38,207.13 L425.07,208.00 L423.73,208.84 L422.37,209.65 L420.98,210.43 L419.56,211.18 L418.12,211.90 L416.66,212.60 L415.18,213.26 L413.68,213.90 L412.17,214.51 L410.63,215.10 L409.08,215.66 L407.52,216.20 L405.94,216.72 L404.34,217.21 L402.74,217.69 L401.13,218.15 L399.50,218.59 L397.87,219.02 L396.23,219.44 L394.59,219.84 L392.94,220.24 L391.28,220.62 L389.62,221.00 L387.96,221.38 L386.30,221.75 L384.64,222.12 L382.98,222.49 L381.33,222.86 L379.67,223.24 L378.02,223.61 L376.38,223.99 L374.73,224.38 L373.09,224.76 L371.46,225.15 L369.82,225.55 L368.19,225.94 L366.57,226.34 L364.94,226.73 L363.32,227.13 L361.70,227.53 L360.09,227.93 L358.47,228.33 L356.86,228.74 L355.25,229.14 L353.64,229.54 L352.03,229.94 L350.43,230.34 L348.82,230.74 L347.22,231.14 L345.62,231.54 L344.02,231.94 L342.42,232.34 L340.82,232.73 L339.23,233.12 L337.63,233.51 L336.03,233.90 L334.44,234.28 L332.84,234.66 L331.24,235.04 L329.65,235.41 L328.05,235.78 L326.46,236.14 L324.86,236.50 L323.26,236.86 L321.66,237.21 L320.06,237.56 L318.46,237.90 L316.86,238.24 L315.26,238.57 L313.66,238.89 L312.05,239.21 L310.44,239.52 L308.83,239.83 L307.22,240.12 L305.61,240.41 L304.00,240.70 L302.38,240.97 L300.76,241.24 L299.14,241.50 L297.51,241.75 L295.89,242.00 L294.26,242.23 L292.62,242.46 L290.99,242.68 L289.35,242.90 L287.72,243.11 L286.08,243.32 L284.43,243.52 L282.79,243.71 L281.15,243.90 L279.50,244.08 L277.85,244.26 L276.20,244.44 L274.55,244.61 L272.90,244.78 L271.25,244.95 L269.59,245.12 L267.94,245.28 L266.28,245.44 L264.63,245.60 L262.97,245.76 L261.31,245.92 L259.65,246.07 L258.00,246.23 L256.34,246.39 L254.68,246.54 L253.02,246.70 L251.36,246.86 L249.70,247.02 L248.04,247.18 L246.39,247.34 L244.73,247.51 L243.07,247.68 L241.41,247.85 L239.76,248.03 L238.10,248.20 L236.45,248.39 L234.79,248.57 L233.14,248.76 L231.49,248.96 L229.84,249.16 L228.19,249.37 L226.54,249.58 L224.89,249.80 L223.25,250.03 L221.60,250.26 L219.96,250.50 L218.32,250.75 L216.68,251.00 L215.05,251.27 L213.41,251.54 L211.78,251.82 L210.15,252.11 L208.53,252.41 L206.90,252.71 L205.28,253.03 L203.66,253.36 L202.04,253.70 L200.43,254.05 L198.82,254.42 L197.21,254.79 L195.60,255.18 L194.00,255.57 L192.40,255.98 L190.81,256.40 L189.22,256.83 L187.63,257.28 L186.04,257.73 L184.46,258.20 L182.89,258.68 L181.31,259.17 L179.75,259.67 L178.18,260.19 L176.62,260.72 L175.07,261.26 L173.52,261.81 L171.97,262.37 L170.43,262.95 L168.89,263.53 L167.36,264.13 L165.84,264.75 L164.32,265.37 L162.80,266.01 L161.29,266.66 L159.79,267.32 L158.29,268.00 L156.80,268.68 L155.31,269.38 L153.83,270.10 L152.36,270.82 L150.89,271.56 L149.42,272.31 L147.97,273.08 L146.52,273.85 L145.08,274.64 L143.64,275.45 L142.21,276.26 L140.79,277.09 L139.38,277.93 L137.97,278.79 L136.57,279.66 L135.18,280.54 L133.79,281.43 L132.42,282.34 L131.05,283.26 L129.69,284.20 L128.33,285.15 L126.99,286.11 L125.65,287.08 L124.32,288.07 L123.00,289.07 L121.69,290.09 L120.38,291.12 L119.09,292.16 L117.80,293.22 L116.53,294.29 L115.26,295.38 L114.00,296.48 L112.75,297.59 L111.51,298.72 L110.28,299.86 L109.06,301.01 L107.85,302.18 L106.65,303.37 L105.45,304.56 L104.27,305.78 L103.10,307.00" fill="none" stroke="#e200e8" stroke-width="3.1" stroke-linejoin="round" stroke-linecap="butt"/>
<rect x="67.60" y="27.00" width="418.90" height="312.00" fill="none" stroke="#000" stroke-width="3"/>
<line x1="102.51" y1="339.00" x2="102.51" y2="346.50" stroke="#000" stroke-width="3" stroke-linecap="butt"/>
<line x1="172.33" y1="339.00" x2="172.33" y2="346.50" stroke="#000" stroke-width="3" stroke-linecap="butt"/>
<line x1="242.14" y1="339.00" x2="242.14" y2="346.50" stroke="#000" stroke-width="3" stroke-linecap="butt"/>
<line x1="311.96" y1="339.00" x2="311.96" y2="346.50" stroke="#000" stroke-width="3" stroke-linecap="butt"/>
<line x1="381.78" y1="339.00" x2="381.78" y2="346.50" stroke="#000" stroke-width="3" stroke-linecap="butt"/>
<line x1="451.59" y1="339.00" x2="451.59" y2="346.50" stroke="#000" stroke-width="3" stroke-linecap="butt"/>
<line x1="67.60" y1="339.00" x2="67.60" y2="343.50" stroke="#000" stroke-width="3" stroke-linecap="butt"/>
<line x1="137.42" y1="339.00" x2="137.42" y2="343.50" stroke="#000" stroke-width="3" stroke-linecap="butt"/>
<line x1="207.23" y1="339.00" x2="207.23" y2="343.50" stroke="#000" stroke-width="3" stroke-linecap="butt"/>
<line x1="277.05" y1="339.00" x2="277.05" y2="343.50" stroke="#000" stroke-width="3" stroke-linecap="butt"/>
<line x1="346.87" y1="339.00" x2="346.87" y2="343.50" stroke="#000" stroke-width="3" stroke-linecap="butt"/>
<line x1="416.68" y1="339.00" x2="416.68" y2="343.50" stroke="#000" stroke-width="3" stroke-linecap="butt"/>
<line x1="486.50" y1="339.00" x2="486.50" y2="343.50" stroke="#000" stroke-width="3" stroke-linecap="butt"/>
<line x1="60.10" y1="27.00" x2="67.60" y2="27.00" stroke="#000" stroke-width="3" stroke-linecap="butt"/>
<line x1="60.10" y1="96.33" x2="67.60" y2="96.33" stroke="#000" stroke-width="3" stroke-linecap="butt"/>
<line x1="60.10" y1="165.67" x2="67.60" y2="165.67" stroke="#000" stroke-width="3" stroke-linecap="butt"/>
<line x1="60.10" y1="235.00" x2="67.60" y2="235.00" stroke="#000" stroke-width="3" stroke-linecap="butt"/>
<line x1="60.10" y1="304.33" x2="67.60" y2="304.33" stroke="#000" stroke-width="3" stroke-linecap="butt"/>
<line x1="63.10" y1="61.67" x2="67.60" y2="61.67" stroke="#000" stroke-width="3" stroke-linecap="butt"/>
<line x1="63.10" y1="131.00" x2="67.60" y2="131.00" stroke="#000" stroke-width="3" stroke-linecap="butt"/>
<line x1="63.10" y1="200.33" x2="67.60" y2="200.33" stroke="#000" stroke-width="3" stroke-linecap="butt"/>
<line x1="63.10" y1="269.67" x2="67.60" y2="269.67" stroke="#000" stroke-width="3" stroke-linecap="butt"/>
<line x1="63.10" y1="339.00" x2="67.60" y2="339.00" stroke="#000" stroke-width="3" stroke-linecap="butt"/>
<text x="87.71" y="362.00" font-size="19.3" letter-spacing="-1.20" fill="#000" >-1.0</text>
<text x="157.43" y="362.00" font-size="19.3" letter-spacing="-1.20" fill="#000" >-0.8</text>
<text x="227.34" y="362.00" font-size="19.3" letter-spacing="-1.20" fill="#000" >-0.6</text>
<text x="296.86" y="362.00" font-size="19.3" letter-spacing="-1.20" fill="#000" >-0.4</text>
<text x="366.98" y="362.00" font-size="19.3" letter-spacing="-1.20" fill="#000" >-0.2</text>
<text x="439.34" y="362.00" font-size="19.3" letter-spacing="-1.20" fill="#000" >0.0</text>
<text x="48.30" y="31.60" font-size="19.3" letter-spacing="0.00" fill="#000" >2</text>
<text x="48.10" y="100.93" font-size="19.3" letter-spacing="0.00" fill="#000" >1</text>
<text x="48.30" y="170.27" font-size="19.3" letter-spacing="0.00" fill="#000" >0</text>
<text x="42.90" y="239.60" font-size="19.3" letter-spacing="-1.20" fill="#000" >-1</text>
<text x="43.10" y="308.93" font-size="19.3" letter-spacing="-1.20" fill="#000" >-2</text>
<text x="163.80" y="385.90" font-size="19.5" letter-spacing="-0.01" fill="#000" >Potential (V vs. Hg/HgO)</text>
<text transform="translate(22.40,292.50) rotate(-90)" font-size="19.5" fill="#000" textLength="202.50" lengthAdjust="spacing">Current density (A g<tspan font-size="10.3" dy="-7.1">-1</tspan><tspan dy="7.1">)</tspan></text>
<line x1="361.10" y1="242.80" x2="399.20" y2="242.80" stroke="#000" stroke-width="3.3" stroke-linecap="butt"/>
<text transform="translate(402.23,249.80) scale(0.9,1)" x="0" y="0" font-size="19.6" fill="#000">MCC-N</text>
<line x1="361.10" y1="261.90" x2="399.20" y2="261.90" stroke="#f00008" stroke-width="3.3" stroke-linecap="butt"/>
<text transform="translate(402.23,268.90) scale(0.9,1)" x="0" y="0" font-size="19.6" fill="#000">MCC-2H</text>
<line x1="361.10" y1="281.00" x2="399.20" y2="281.00" stroke="#0000dc" stroke-width="3.3" stroke-linecap="butt"/>
<text transform="translate(402.23,288.00) scale(0.9,1)" x="0" y="0" font-size="19.6" fill="#000">MCC-4H</text>
<line x1="361.10" y1="300.10" x2="399.20" y2="300.10" stroke="#e200e8" stroke-width="3.3" stroke-linecap="butt"/>
<text transform="translate(402.23,307.10) scale(0.9,1)" x="0" y="0" font-size="19.6" fill="#000">MCC-6H</text>
<text x="8.80" y="26.90" font-size="25.5" letter-spacing="0.00" fill="#000" >A</text>
<path d="M578.30,338.50 L579.10,337.02 L579.89,335.54 L580.69,334.06 L581.48,332.58 L582.27,331.10 L583.06,329.62 L583.84,328.15 L584.63,326.67 L585.41,325.19 L586.20,323.71 L586.98,322.23 L587.76,320.75 L588.54,319.28 L589.32,317.80 L590.09,316.32 L590.87,314.84 L591.64,313.37 L592.41,311.89 L593.18,310.41 L593.95,308.93 L594.72,307.46 L595.49,305.98 L596.25,304.50 L597.01,303.02 L597.78,301.55 L598.54,300.07 L599.30,298.59 L600.06,297.11 L600.82,295.64 L601.57,294.16 L602.33,292.68 L603.08,291.20 L603.83,289.73 L604.59,288.25 L605.34,286.77 L606.09,285.29 L606.83,283.82 L607.58,282.34 L608.33,280.86 L609.07,279.38 L609.82,277.90 L610.56,276.43 L611.30,274.95 L612.04,273.47 L612.78,271.99 L613.52,270.51 L614.26,269.03 L615.00,267.55 L615.73,266.07 L616.47,264.59 L617.20,263.11 L617.93,261.63 L618.66,260.15 L619.40,258.67 L620.13,257.19 L620.85,255.71 L621.58,254.23 L622.31,252.74 L623.04,251.26 L623.76,249.78 L624.49,248.30 L625.21,246.81 L625.93,245.33 L626.66,243.85 L627.38,242.36 L628.10,240.88 L628.82,239.39 L629.54,237.91 L630.25,236.42 L630.97,234.94 L631.69,233.45 L632.41,231.96 L633.12,230.47 L633.84,228.99 L634.55,227.50 L635.26,226.01 L635.97,224.52 L636.69,223.03 L637.40,221.54 L638.11,220.05 L638.82,218.56 L639.53,217.07 L640.24,215.58 L640.95,214.09 L641.65,212.59 L642.36,211.10 L643.07,209.61 L643.77,208.11 L644.48,206.62 L645.18,205.12 L645.89,203.62 L646.59,202.13 L647.30,200.63 L648.00,199.13 L648.70,197.63 L649.40,196.13 L650.10,194.63 L650.81,193.13 L651.51,191.63 L652.21,190.13 L652.91,188.63 L653.61,187.13 L654.31,185.62 L655.00,184.12 L655.70,182.61 L656.40,181.11 L657.10,179.60 L657.80,178.09 L658.49,176.58 L659.19,175.08 L659.89,173.57 L660.58,172.06 L661.28,170.54 L661.98,169.03 L662.67,167.52 L663.37,166.01 L664.06,164.49 L664.76,162.98 L665.45,161.46 L666.15,159.94 L666.84,158.43 L667.54,156.91 L668.23,155.39 L668.93,153.87 L669.62,152.35 L670.31,150.83 L671.01,149.30 L671.70,147.78 L672.40,146.26 L673.09,144.73 L673.78,143.20 L674.48,141.68 L675.17,140.15 L675.86,138.62 L676.56,137.09 L677.25,135.56 L677.94,134.03 L678.64,132.49 L679.33,130.96 L680.03,129.42 L680.72,127.89 L681.41,126.35 L682.11,124.82 L682.81,123.28 L683.51,121.74 L684.21,120.21 L684.91,118.68 L685.62,117.15 L686.33,115.62 L687.05,114.10 L687.77,112.58 L688.49,111.06 L689.22,109.55 L689.95,108.05 L690.70,106.54 L691.44,105.05 L692.20,103.56 L692.96,102.08 L693.73,100.60 L694.51,99.13 L695.30,97.68 L696.09,96.22 L696.90,94.78 L697.72,93.35 L698.54,91.92 L699.38,90.51 L700.23,89.11 L701.09,87.72 L701.96,86.34 L702.84,84.97 L703.74,83.62 L704.65,82.27 L705.57,80.94 L706.51,79.63 L707.47,78.33 L708.43,77.04 L709.42,75.77 L710.42,74.51 L711.43,73.27 L712.46,72.05 L713.51,70.84 L714.58,69.66 L715.67,68.49 L716.79,67.36 L717.93,66.25 L719.10,65.17 L720.30,64.13 L721.54,63.12 L722.81,62.15 L724.12,61.23 L725.47,60.35 L726.86,59.52 L728.30,58.74 L729.79,58.02 L731.32,57.35 L732.91,56.74 L734.55,56.19 L736.24,55.71 L738.00,55.30 L738.39,57.08 L738.80,58.85 L739.23,60.61 L739.67,62.37 L740.13,64.12 L740.61,65.86 L741.10,67.59 L741.60,69.32 L742.12,71.04 L742.65,72.75 L743.20,74.46 L743.76,76.16 L744.33,77.85 L744.92,79.54 L745.52,81.23 L746.13,82.90 L746.75,84.58 L747.39,86.24 L748.03,87.91 L748.69,89.56 L749.36,91.22 L750.04,92.86 L750.73,94.51 L751.43,96.15 L752.14,97.78 L752.85,99.42 L753.58,101.04 L754.32,102.67 L755.06,104.29 L755.82,105.91 L756.58,107.52 L757.35,109.13 L758.13,110.74 L758.91,112.35 L759.70,113.95 L760.50,115.56 L761.30,117.16 L762.12,118.75 L762.93,120.35 L763.75,121.95 L764.58,123.54 L765.41,125.13 L766.25,126.72 L767.09,128.31 L767.93,129.90 L768.78,131.49 L769.64,133.08 L770.49,134.67 L771.35,136.26 L772.21,137.85 L773.07,139.44 L773.94,141.03 L774.81,142.62 L775.68,144.21 L776.55,145.80 L777.42,147.39 L778.29,148.99 L779.16,150.58 L780.03,152.18 L780.91,153.78 L781.78,155.37 L782.66,156.97 L783.53,158.57 L784.41,160.17 L785.29,161.78 L786.17,163.38 L787.05,164.98 L787.94,166.58 L788.82,168.18 L789.71,169.79 L790.59,171.39 L791.48,172.99 L792.37,174.59 L793.27,176.19 L794.16,177.79 L795.06,179.39 L795.96,180.99 L796.86,182.59 L797.76,184.19 L798.66,185.78 L799.57,187.38 L800.48,188.97 L801.39,190.57 L802.31,192.16 L803.23,193.75 L804.15,195.33 L805.07,196.92 L806.00,198.50 L806.93,200.08 L807.86,201.66 L808.79,203.24 L809.73,204.82 L810.67,206.39 L811.62,207.96 L812.57,209.53 L813.52,211.09 L814.47,212.65 L815.43,214.21 L816.40,215.77 L817.36,217.32 L818.33,218.87 L819.31,220.42 L820.29,221.96 L821.27,223.50 L822.25,225.04 L823.25,226.57 L824.24,228.09 L825.24,229.62 L826.24,231.14 L827.25,232.65 L828.27,234.16 L829.28,235.67 L830.31,237.17 L831.33,238.67 L832.36,240.16 L833.40,241.65 L834.44,243.13 L835.49,244.61 L836.54,246.08 L837.60,247.55 L838.66,249.01 L839.73,250.47 L840.81,251.92 L841.89,253.36 L842.97,254.80 L844.06,256.24 L845.16,257.66 L846.26,259.08 L847.37,260.50 L848.48,261.91 L849.61,263.31 L850.73,264.71 L851.87,266.10 L853.00,267.48 L854.15,268.85 L855.30,270.22 L856.46,271.58 L857.63,272.94 L858.80,274.28 L859.98,275.62 L861.16,276.96 L862.36,278.28 L863.56,279.60 L864.76,280.91 L865.98,282.21 L867.20,283.50 L868.43,284.79 L869.66,286.06 L870.90,287.33 L872.15,288.59 L873.41,289.84 L874.68,291.08 L875.95,292.32 L877.23,293.54 L878.52,294.76 L879.82,295.97 L881.13,297.17 L882.44,298.35 L883.76,299.53 L885.09,300.70 L886.43,301.86 L887.78,303.01 L889.13,304.15 L890.49,305.29 L891.87,306.41 L893.25,307.52 L894.64,308.62 L896.04,309.71 L897.44,310.79 L898.86,311.86 L900.29,312.91 L901.72,313.96 L903.16,315.00 L904.62,316.03 L906.08,317.04 L907.55,318.04 L909.04,319.04 L910.53,320.02 L912.03,320.99 L913.54,321.94 L915.06,322.89 L916.59,323.83 L918.13,324.75 L919.68,325.66 L921.24,326.56 L922.81,327.44 L924.39,328.32 L925.99,329.18 L927.59,330.03 L929.20,330.86 L930.82,331.69 L932.46,332.50 L934.10,333.30 L935.76,334.08 L937.42,334.85 L939.10,335.61 L940.79,336.35 L942.49,337.09 L944.20,337.80" fill="none" stroke="#e200e8" stroke-width="3.9" stroke-linejoin="round" stroke-linecap="butt"/>
<path d="M578.30,338.50 L579.07,337.10 L579.84,335.70 L580.60,334.29 L581.36,332.89 L582.11,331.48 L582.86,330.07 L583.60,328.66 L584.35,327.24 L585.08,325.83 L585.82,324.41 L586.55,322.99 L587.27,321.57 L587.99,320.15 L588.71,318.73 L589.43,317.30 L590.14,315.88 L590.85,314.45 L591.55,313.02 L592.25,311.59 L592.95,310.15 L593.64,308.72 L594.33,307.28 L595.02,305.84 L595.70,304.40 L596.38,302.96 L597.06,301.52 L597.73,300.08 L598.40,298.63 L599.07,297.19 L599.74,295.74 L600.40,294.29 L601.06,292.84 L601.71,291.39 L602.37,289.94 L603.02,288.48 L603.67,287.03 L604.31,285.57 L604.95,284.11 L605.59,282.66 L606.23,281.20 L606.87,279.73 L607.50,278.27 L608.13,276.81 L608.76,275.35 L609.39,273.88 L610.01,272.41 L610.63,270.95 L611.25,269.48 L611.87,268.01 L612.48,266.54 L613.10,265.07 L613.71,263.59 L614.32,262.12 L614.93,260.65 L615.53,259.17 L616.14,257.70 L616.74,256.22 L617.34,254.74 L617.94,253.26 L618.54,251.79 L619.14,250.31 L619.73,248.83 L620.33,247.35 L620.92,245.86 L621.51,244.38 L622.10,242.90 L622.69,241.41 L623.27,239.93 L623.86,238.45 L624.45,236.96 L625.03,235.47 L625.61,233.99 L626.20,232.50 L626.78,231.01 L627.36,229.53 L627.94,228.04 L628.52,226.55 L629.10,225.06 L629.67,223.57 L630.25,222.08 L630.83,220.59 L631.40,219.10 L631.98,217.61 L632.55,216.12 L633.13,214.62 L633.70,213.13 L634.28,211.64 L634.85,210.15 L635.43,208.66 L636.00,207.16 L636.58,205.67 L637.15,204.18 L637.72,202.68 L638.30,201.19 L638.87,199.70 L639.45,198.20 L640.02,196.71 L640.60,195.22 L641.17,193.72 L641.75,192.23 L642.32,190.74 L642.90,189.25 L643.48,187.75 L644.05,186.26 L644.63,184.77 L645.21,183.27 L645.79,181.78 L646.37,180.29 L646.95,178.80 L647.53,177.30 L648.12,175.81 L648.70,174.32 L649.28,172.83 L649.87,171.34 L650.46,169.85 L651.05,168.36 L651.63,166.87 L652.22,165.38 L652.82,163.89 L653.41,162.40 L654.00,160.91 L654.60,159.42 L655.20,157.93 L655.80,156.45 L656.40,154.96 L657.00,153.48 L657.60,151.99 L658.21,150.50 L658.81,149.02 L659.42,147.54 L660.03,146.05 L660.65,144.57 L661.26,143.09 L661.88,141.61 L662.50,140.13 L663.12,138.65 L663.74,137.17 L664.37,135.69 L664.99,134.21 L665.62,132.74 L666.26,131.27 L666.90,129.79 L667.54,128.33 L668.18,126.86 L668.83,125.39 L669.48,123.93 L670.14,122.47 L670.80,121.01 L671.47,119.56 L672.14,118.11 L672.81,116.67 L673.50,115.22 L674.18,113.78 L674.88,112.35 L675.57,110.92 L676.28,109.49 L676.99,108.07 L677.71,106.66 L678.43,105.25 L679.17,103.84 L679.90,102.44 L680.65,101.05 L681.41,99.66 L682.17,98.28 L682.94,96.90 L683.72,95.53 L684.50,94.17 L685.30,92.82 L686.10,91.47 L686.92,90.13 L687.74,88.79 L688.57,87.47 L689.41,86.15 L690.27,84.84 L691.13,83.54 L692.00,82.25 L692.88,80.96 L693.78,79.69 L694.68,78.42 L695.60,77.16 L696.52,75.91 L697.46,74.68 L698.41,73.45 L699.38,72.23 L700.35,71.02 L701.34,69.82 L702.34,68.64 L703.35,67.46 L704.37,66.30 L705.41,65.14 L706.47,64.00 L707.53,62.87 L708.61,61.75 L709.71,60.64 L710.81,59.55 L711.94,58.46 L713.07,57.39 L714.23,56.34 L715.39,55.29 L715.80,56.89 L716.22,58.48 L716.64,60.07 L717.07,61.65 L717.50,63.24 L717.94,64.82 L718.38,66.40 L718.84,67.97 L719.29,69.55 L719.76,71.12 L720.23,72.70 L720.70,74.27 L721.18,75.83 L721.67,77.40 L722.16,78.97 L722.66,80.53 L723.16,82.09 L723.67,83.65 L724.19,85.21 L724.71,86.76 L725.23,88.32 L725.76,89.87 L726.30,91.42 L726.84,92.97 L727.39,94.52 L727.94,96.06 L728.50,97.61 L729.06,99.15 L729.62,100.69 L730.20,102.23 L730.77,103.77 L731.35,105.31 L731.94,106.84 L732.53,108.38 L733.12,109.91 L733.72,111.44 L734.33,112.97 L734.94,114.49 L735.55,116.02 L736.17,117.54 L736.79,119.07 L737.42,120.59 L738.05,122.11 L738.68,123.63 L739.32,125.14 L739.96,126.66 L740.61,128.17 L741.26,129.69 L741.91,131.20 L742.57,132.71 L743.23,134.22 L743.90,135.73 L744.57,137.23 L745.24,138.74 L745.92,140.24 L746.60,141.74 L747.28,143.24 L747.97,144.74 L748.66,146.24 L749.35,147.74 L750.05,149.24 L750.75,150.73 L751.45,152.22 L752.15,153.72 L752.86,155.21 L753.58,156.70 L754.29,158.19 L755.01,159.68 L755.73,161.16 L756.45,162.65 L757.18,164.13 L757.91,165.61 L758.64,167.10 L759.38,168.58 L760.12,170.05 L760.86,171.53 L761.61,173.01 L762.35,174.48 L763.10,175.96 L763.86,177.43 L764.62,178.90 L765.38,180.37 L766.14,181.84 L766.90,183.30 L767.67,184.77 L768.45,186.23 L769.22,187.69 L770.00,189.15 L770.78,190.61 L771.56,192.07 L772.35,193.52 L773.14,194.98 L773.93,196.43 L774.73,197.88 L775.53,199.33 L776.33,200.78 L777.14,202.22 L777.94,203.67 L778.75,205.11 L779.57,206.55 L780.38,207.99 L781.20,209.43 L782.03,210.86 L782.85,212.29 L783.68,213.73 L784.51,215.15 L785.35,216.58 L786.19,218.01 L787.03,219.43 L787.87,220.86 L788.72,222.28 L789.57,223.69 L790.42,225.11 L791.28,226.52 L792.14,227.94 L793.00,229.35 L793.87,230.76 L794.73,232.16 L795.60,233.57 L796.48,234.97 L797.36,236.37 L798.24,237.77 L799.12,239.16 L800.01,240.56 L800.90,241.95 L801.79,243.34 L802.68,244.73 L803.58,246.11 L804.48,247.49 L805.39,248.87 L806.29,250.25 L807.20,251.63 L808.12,253.00 L809.03,254.37 L809.95,255.74 L810.88,257.11 L811.80,258.48 L812.73,259.84 L813.66,261.20 L814.60,262.56 L815.53,263.91 L816.47,265.26 L817.42,266.61 L818.36,267.96 L819.31,269.31 L820.27,270.65 L821.22,271.99 L822.18,273.33 L823.14,274.66 L824.11,275.99 L825.07,277.32 L826.05,278.65 L827.02,279.98 L828.00,281.30 L828.98,282.62 L829.96,283.94 L830.95,285.25 L831.93,286.56 L832.93,287.87 L833.92,289.18 L834.92,290.48 L835.92,291.78 L836.92,293.08 L837.93,294.37 L838.94,295.66 L839.96,296.95 L840.97,298.24 L841.99,299.52 L843.01,300.80 L844.04,302.08 L845.07,303.36 L846.10,304.63 L847.13,305.90 L848.17,307.16 L849.21,308.43 L850.25,309.69 L851.30,310.94 L852.35,312.20 L853.40,313.45 L854.46,314.70 L855.52,315.94 L856.58,317.18 L857.64,318.42 L858.71,319.66 L859.78,320.89 L860.86,322.12 L861.93,323.34 L863.01,324.57 L864.10,325.79 L865.18,327.00 L866.27,328.22 L867.37,329.43 L868.46,330.63 L869.56,331.84 L870.66,333.04 L871.76,334.23 L872.87,335.43 L873.98,336.62 L875.10,337.80" fill="none" stroke="#0000dc" stroke-width="3.9" stroke-linejoin="round" stroke-linecap="butt"/>
<path d="M578.30,338.50 L578.95,337.11 L579.59,335.72 L580.24,334.33 L580.88,332.94 L581.52,331.55 L582.16,330.16 L582.79,328.76 L583.42,327.36 L584.05,325.97 L584.67,324.57 L585.30,323.17 L585.92,321.77 L586.53,320.36 L587.15,318.96 L587.76,317.55 L588.37,316.15 L588.98,314.74 L589.58,313.33 L590.19,311.92 L590.79,310.51 L591.38,309.10 L591.98,307.69 L592.57,306.27 L593.16,304.86 L593.75,303.44 L594.34,302.03 L594.92,300.61 L595.51,299.19 L596.09,297.77 L596.67,296.35 L597.24,294.93 L597.82,293.51 L598.39,292.08 L598.96,290.66 L599.53,289.23 L600.10,287.81 L600.66,286.38 L601.23,284.95 L601.79,283.52 L602.35,282.10 L602.91,280.66 L603.46,279.23 L604.02,277.80 L604.57,276.37 L605.12,274.94 L605.68,273.50 L606.22,272.07 L606.77,270.63 L607.32,269.20 L607.86,267.76 L608.41,266.33 L608.95,264.89 L609.49,263.45 L610.03,262.01 L610.57,260.57 L611.11,259.13 L611.64,257.69 L612.18,256.25 L612.71,254.81 L613.25,253.37 L613.78,251.93 L614.31,250.48 L614.84,249.04 L615.37,247.60 L615.90,246.15 L616.42,244.71 L616.95,243.26 L617.48,241.82 L618.00,240.37 L618.52,238.93 L619.05,237.48 L619.57,236.03 L620.09,234.59 L620.62,233.14 L621.14,231.69 L621.66,230.25 L622.18,228.80 L622.70,227.35 L623.22,225.90 L623.74,224.45 L624.25,223.01 L624.77,221.56 L625.29,220.11 L625.81,218.66 L626.32,217.21 L626.84,215.76 L627.36,214.31 L627.88,212.86 L628.39,211.41 L628.91,209.97 L629.43,208.52 L629.94,207.07 L630.46,205.62 L630.98,204.17 L631.49,202.72 L632.01,201.27 L632.53,199.82 L633.04,198.37 L633.56,196.92 L634.08,195.48 L634.60,194.03 L635.12,192.58 L635.63,191.13 L636.15,189.68 L636.67,188.24 L637.19,186.79 L637.71,185.34 L638.23,183.90 L638.76,182.45 L639.28,181.00 L639.80,179.56 L640.32,178.11 L640.85,176.67 L641.37,175.22 L641.90,173.78 L642.42,172.33 L642.95,170.89 L643.48,169.44 L644.01,168.00 L644.54,166.56 L645.07,165.12 L645.60,163.67 L646.13,162.23 L646.66,160.79 L647.20,159.35 L647.73,157.91 L648.27,156.47 L648.81,155.04 L649.35,153.60 L649.89,152.16 L650.43,150.72 L650.97,149.29 L651.52,147.85 L652.06,146.42 L652.61,144.98 L653.16,143.55 L653.71,142.12 L654.26,140.68 L654.81,139.25 L655.37,137.82 L655.92,136.39 L656.48,134.96 L657.04,133.54 L657.60,132.11 L658.16,130.68 L658.73,129.26 L659.29,127.83 L659.86,126.41 L660.43,124.98 L661.00,123.56 L661.58,122.14 L662.15,120.72 L662.73,119.30 L663.31,117.88 L663.89,116.46 L664.47,115.05 L665.06,113.63 L665.65,112.22 L666.24,110.80 L666.83,109.39 L667.43,107.98 L668.02,106.57 L668.62,105.16 L669.22,103.75 L669.83,102.35 L670.43,100.94 L671.04,99.54 L671.65,98.13 L672.27,96.73 L672.88,95.33 L673.50,93.93 L674.12,92.53 L674.75,91.13 L675.37,89.74 L676.00,88.34 L676.63,86.95 L677.27,85.56 L677.90,84.17 L678.55,82.78 L679.19,81.39 L679.83,80.00 L680.48,78.62 L681.13,77.23 L681.79,75.85 L682.45,74.47 L683.11,73.09 L683.77,71.71 L684.44,70.34 L685.11,68.96 L685.78,67.59 L686.46,66.22 L687.14,64.84 L687.82,63.48 L688.51,62.11 L689.20,60.74 L689.89,59.38 L690.59,58.02 L691.29,56.65 L691.99,55.30 L692.29,56.86 L692.59,58.43 L692.89,59.99 L693.20,61.55 L693.51,63.11 L693.82,64.68 L694.14,66.24 L694.46,67.81 L694.78,69.37 L695.11,70.94 L695.45,72.50 L695.78,74.07 L696.12,75.63 L696.47,77.20 L696.81,78.77 L697.17,80.33 L697.52,81.90 L697.88,83.47 L698.24,85.04 L698.61,86.60 L698.98,88.17 L699.36,89.74 L699.73,91.30 L700.11,92.87 L700.50,94.44 L700.89,96.01 L701.28,97.57 L701.68,99.14 L702.08,100.71 L702.48,102.27 L702.89,103.84 L703.30,105.41 L703.72,106.97 L704.14,108.54 L704.56,110.10 L704.99,111.67 L705.42,113.23 L705.85,114.80 L706.29,116.36 L706.73,117.93 L707.17,119.49 L707.62,121.05 L708.08,122.61 L708.53,124.17 L708.99,125.74 L709.46,127.30 L709.92,128.86 L710.39,130.42 L710.87,131.97 L711.35,133.53 L711.83,135.09 L712.32,136.65 L712.81,138.20 L713.30,139.76 L713.80,141.31 L714.30,142.86 L714.80,144.42 L715.31,145.97 L715.82,147.52 L716.34,149.07 L716.86,150.62 L717.38,152.16 L717.91,153.71 L718.44,155.26 L718.97,156.80 L719.51,158.34 L720.05,159.89 L720.60,161.43 L721.14,162.97 L721.70,164.50 L722.25,166.04 L722.82,167.58 L723.38,169.11 L723.95,170.64 L724.52,172.18 L725.10,173.71 L725.68,175.23 L726.26,176.76 L726.85,178.29 L727.45,179.81 L728.04,181.33 L728.64,182.85 L729.25,184.37 L729.86,185.89 L730.47,187.40 L731.09,188.91 L731.71,190.42 L732.34,191.93 L732.97,193.44 L733.60,194.94 L734.24,196.45 L734.88,197.95 L735.53,199.44 L736.18,200.94 L736.84,202.43 L737.50,203.92 L738.17,205.41 L738.84,206.90 L739.51,208.38 L740.19,209.87 L740.87,211.35 L741.56,212.82 L742.25,214.30 L742.95,215.77 L743.65,217.24 L744.36,218.70 L745.07,220.17 L745.79,221.63 L746.51,223.09 L747.23,224.54 L747.96,225.99 L748.70,227.44 L749.44,228.89 L750.18,230.33 L750.93,231.77 L751.68,233.21 L752.44,234.64 L753.21,236.07 L753.97,237.50 L754.75,238.93 L755.53,240.35 L756.31,241.77 L757.10,243.18 L757.89,244.59 L758.69,246.00 L759.49,247.41 L760.30,248.81 L761.12,250.20 L761.94,251.60 L762.76,252.99 L763.59,254.38 L764.43,255.76 L765.27,257.14 L766.11,258.51 L766.96,259.88 L767.82,261.25 L768.68,262.62 L769.55,263.98 L770.42,265.33 L771.29,266.68 L772.18,268.03 L773.07,269.38 L773.96,270.72 L774.86,272.05 L775.76,273.38 L776.67,274.71 L777.59,276.03 L778.51,277.35 L779.44,278.67 L780.37,279.98 L781.31,281.28 L782.25,282.58 L783.20,283.88 L784.16,285.17 L785.12,286.46 L786.08,287.74 L787.06,289.02 L788.03,290.30 L789.02,291.57 L790.01,292.83 L791.00,294.09 L792.00,295.34 L793.01,296.59 L794.03,297.84 L795.05,299.08 L796.07,300.31 L797.10,301.54 L798.14,302.77 L799.18,303.99 L800.23,305.20 L801.29,306.41 L802.35,307.61 L803.42,308.81 L804.49,310.01 L805.57,311.19 L806.66,312.38 L807.75,313.55 L808.85,314.73 L809.95,315.89 L811.06,317.05 L812.18,318.21 L813.30,319.36 L814.43,320.50 L815.57,321.64 L816.71,322.77 L817.86,323.90 L819.02,325.02 L820.18,326.14 L821.35,327.24 L822.52,328.35 L823.71,329.44 L824.89,330.54 L826.09,331.62 L827.29,332.70 L828.50,333.77 L829.71,334.84 L830.93,335.90 L832.16,336.96 L833.40,338.00" fill="none" stroke="#f00008" stroke-width="3.9" stroke-linejoin="round" stroke-linecap="butt"/>
<path d="M578.30,338.50 L578.69,337.10 L579.09,335.69 L579.48,334.29 L579.88,332.89 L580.27,331.49 L580.67,330.08 L581.06,328.68 L581.46,327.28 L581.85,325.87 L582.25,324.47 L582.64,323.07 L583.03,321.66 L583.43,320.26 L583.82,318.86 L584.21,317.45 L584.60,316.05 L585.00,314.65 L585.39,313.24 L585.78,311.84 L586.17,310.43 L586.56,309.03 L586.95,307.62 L587.34,306.22 L587.73,304.81 L588.12,303.41 L588.51,302.00 L588.90,300.60 L589.29,299.19 L589.68,297.79 L590.07,296.38 L590.45,294.98 L590.84,293.57 L591.23,292.17 L591.61,290.76 L592.00,289.35 L592.38,287.95 L592.77,286.54 L593.15,285.13 L593.54,283.73 L593.92,282.32 L594.30,280.91 L594.69,279.50 L595.07,278.10 L595.45,276.69 L595.83,275.28 L596.21,273.87 L596.59,272.47 L596.97,271.06 L597.35,269.65 L597.73,268.24 L598.10,266.83 L598.48,265.42 L598.86,264.01 L599.23,262.60 L599.61,261.19 L599.98,259.78 L600.35,258.37 L600.73,256.96 L601.10,255.55 L601.47,254.14 L601.84,252.73 L602.21,251.32 L602.58,249.91 L602.95,248.50 L603.32,247.09 L603.68,245.68 L604.05,244.27 L604.42,242.85 L604.78,241.44 L605.14,240.03 L605.51,238.62 L605.87,237.20 L606.23,235.79 L606.59,234.38 L606.95,232.97 L607.31,231.55 L607.67,230.14 L608.03,228.72 L608.38,227.31 L608.74,225.90 L609.10,224.48 L609.45,223.07 L609.80,221.65 L610.15,220.24 L610.51,218.82 L610.86,217.40 L611.21,215.99 L611.55,214.57 L611.90,213.16 L612.25,211.74 L612.59,210.32 L612.94,208.91 L613.28,207.49 L613.62,206.07 L613.97,204.65 L614.31,203.23 L614.65,201.82 L614.98,200.40 L615.32,198.98 L615.66,197.56 L615.99,196.14 L616.33,194.72 L616.66,193.30 L616.99,191.88 L617.32,190.46 L617.65,189.04 L617.98,187.62 L618.31,186.20 L618.64,184.78 L618.96,183.36 L619.28,181.93 L619.61,180.51 L619.93,179.09 L620.25,177.67 L620.57,176.24 L620.89,174.82 L621.20,173.40 L621.52,171.97 L621.83,170.55 L622.15,169.13 L622.46,167.70 L622.77,166.28 L623.08,164.85 L623.39,163.43 L623.69,162.00 L624.00,160.57 L624.30,159.15 L624.60,157.72 L624.91,156.30 L625.21,154.87 L625.50,153.44 L625.80,152.01 L626.10,150.59 L626.39,149.16 L626.68,147.73 L626.98,146.30 L627.27,144.87 L627.56,143.44 L627.84,142.01 L628.13,140.58 L628.41,139.15 L628.70,137.72 L628.98,136.29 L629.26,134.86 L629.54,133.43 L629.81,131.99 L630.09,130.56 L630.36,129.13 L630.64,127.70 L630.91,126.26 L631.18,124.83 L631.44,123.39 L631.71,121.96 L631.97,120.53 L632.24,119.09 L632.50,117.66 L632.76,116.22 L633.02,114.78 L633.27,113.35 L633.53,111.91 L633.78,110.47 L634.03,109.04 L634.28,107.60 L634.53,106.16 L634.78,104.72 L635.02,103.28 L635.27,101.84 L635.51,100.41 L635.75,98.97 L635.99,97.53 L636.22,96.09 L636.46,94.64 L636.69,93.20 L636.92,91.76 L637.15,90.32 L637.38,88.88 L637.61,87.43 L637.83,85.99 L638.05,84.55 L638.27,83.10 L638.49,81.66 L638.71,80.22 L638.92,78.77 L639.14,77.33 L639.35,75.88 L639.56,74.43 L639.76,72.99 L639.97,71.54 L640.17,70.09 L640.37,68.65 L640.57,67.20 L640.77,65.75 L640.97,64.30 L641.16,62.85 L641.35,61.40 L641.54,59.95 L641.73,58.50 L641.92,57.05 L642.10,55.60 L642.09,57.10 L642.09,58.61 L642.09,60.11 L642.09,61.62 L642.10,63.12 L642.11,64.62 L642.13,66.13 L642.15,67.63 L642.17,69.13 L642.20,70.63 L642.24,72.13 L642.28,73.63 L642.32,75.14 L642.37,76.64 L642.42,78.14 L642.48,79.64 L642.54,81.13 L642.60,82.63 L642.67,84.13 L642.74,85.63 L642.82,87.13 L642.90,88.63 L642.99,90.12 L643.08,91.62 L643.17,93.11 L643.27,94.61 L643.38,96.10 L643.49,97.60 L643.60,99.09 L643.71,100.59 L643.83,102.08 L643.96,103.57 L644.09,105.06 L644.22,106.55 L644.36,108.05 L644.50,109.54 L644.65,111.02 L644.80,112.51 L644.95,114.00 L645.11,115.49 L645.28,116.98 L645.45,118.46 L645.62,119.95 L645.79,121.43 L645.97,122.92 L646.16,124.40 L646.35,125.89 L646.54,127.37 L646.74,128.85 L646.94,130.33 L647.15,131.81 L647.36,133.29 L647.57,134.77 L647.79,136.25 L648.01,137.73 L648.24,139.20 L648.47,140.68 L648.71,142.15 L648.95,143.63 L649.19,145.10 L649.44,146.57 L649.69,148.05 L649.95,149.52 L650.21,150.99 L650.47,152.46 L650.74,153.93 L651.02,155.39 L651.29,156.86 L651.58,158.33 L651.86,159.79 L652.15,161.26 L652.45,162.72 L652.75,164.18 L653.05,165.64 L653.35,167.10 L653.67,168.56 L653.98,170.02 L654.30,171.48 L654.62,172.94 L654.95,174.39 L655.28,175.85 L655.62,177.30 L655.96,178.75 L656.30,180.20 L656.65,181.65 L657.00,183.10 L657.36,184.55 L657.72,186.00 L658.09,187.45 L658.45,188.89 L658.83,190.33 L659.20,191.78 L659.59,193.22 L659.97,194.66 L660.36,196.10 L660.75,197.54 L661.15,198.98 L661.55,200.41 L661.96,201.85 L662.37,203.28 L662.78,204.71 L663.20,206.14 L663.62,207.57 L664.05,209.00 L664.48,210.43 L664.91,211.86 L665.35,213.28 L665.80,214.71 L666.24,216.13 L666.69,217.55 L667.15,218.97 L667.61,220.39 L668.07,221.81 L668.54,223.22 L669.01,224.64 L669.48,226.05 L669.96,227.47 L670.44,228.88 L670.93,230.29 L671.42,231.69 L671.92,233.10 L672.42,234.51 L672.92,235.91 L673.43,237.31 L673.94,238.71 L674.45,240.11 L674.97,241.51 L675.50,242.91 L676.02,244.30 L676.55,245.70 L677.09,247.09 L677.63,248.48 L678.17,249.87 L678.72,251.26 L679.27,252.65 L679.83,254.03 L680.38,255.41 L680.95,256.80 L681.51,258.18 L682.09,259.56 L682.66,260.93 L683.24,262.31 L683.82,263.68 L684.41,265.05 L685.00,266.43 L685.60,267.79 L686.19,269.16 L686.80,270.53 L687.40,271.89 L688.01,273.26 L688.63,274.62 L689.25,275.98 L689.87,277.33 L690.50,278.69 L691.13,280.04 L691.76,281.40 L692.40,282.75 L693.04,284.10 L693.69,285.44 L694.34,286.79 L694.99,288.13 L695.65,289.47 L696.31,290.82 L696.98,292.15 L697.64,293.49 L698.32,294.83 L699.00,296.16 L699.68,297.49 L700.36,298.82 L701.05,300.15 L701.74,301.47 L702.44,302.80 L703.14,304.12 L703.84,305.44 L704.55,306.76 L705.26,308.07 L705.98,309.39 L706.70,310.70 L707.42,312.01 L708.15,313.32 L708.88,314.62 L709.62,315.93 L710.36,317.23 L711.10,318.53 L711.85,319.83 L712.60,321.13 L713.35,322.42 L714.11,323.72 L714.87,325.01 L715.64,326.29 L716.41,327.58 L717.18,328.87 L717.96,330.15 L718.74,331.43 L719.52,332.71 L720.31,333.98 L721.11,335.26 L721.90,336.53 L722.70,337.80" fill="none" stroke="#000" stroke-width="3.9" stroke-linejoin="round" stroke-linecap="butt"/>
<rect x="578.30" y="27.00" width="419.20" height="312.00" fill="none" stroke="#000" stroke-width="3"/>
<line x1="578.30" y1="339.00" x2="578.30" y2="346.50" stroke="#000" stroke-width="3" stroke-linecap="butt"/>
<line x1="648.17" y1="339.00" x2="648.17" y2="346.50" stroke="#000" stroke-width="3" stroke-linecap="butt"/>
<line x1="718.03" y1="339.00" x2="718.03" y2="346.50" stroke="#000" stroke-width="3" stroke-linecap="butt"/>
<line x1="787.90" y1="339.00" x2="787.90" y2="346.50" stroke="#000" stroke-width="3" stroke-linecap="butt"/>
<line x1="857.77" y1="339.00" x2="857.77" y2="346.50" stroke="#000" stroke-width="3" stroke-linecap="butt"/>
<line x1="927.63" y1="339.00" x2="927.63" y2="346.50" stroke="#000" stroke-width="3" stroke-linecap="butt"/>
<line x1="997.50" y1="339.00" x2="997.50" y2="346.50" stroke="#000" stroke-width="3" stroke-linecap="butt"/>
<line x1="613.23" y1="339.00" x2="613.23" y2="343.50" stroke="#000" stroke-width="3" stroke-linecap="butt"/>
<line x1="683.10" y1="339.00" x2="683.10" y2="343.50" stroke="#000" stroke-width="3" stroke-linecap="butt"/>
<line x1="752.97" y1="339.00" x2="752.97" y2="343.50" stroke="#000" stroke-width="3" stroke-linecap="butt"/>
<line x1="822.83" y1="339.00" x2="822.83" y2="343.50" stroke="#000" stroke-width="3" stroke-linecap="butt"/>
<line x1="892.70" y1="339.00" x2="892.70" y2="343.50" stroke="#000" stroke-width="3" stroke-linecap="butt"/>
<line x1="962.57" y1="339.00" x2="962.57" y2="343.50" stroke="#000" stroke-width="3" stroke-linecap="butt"/>
<line x1="570.80" y1="55.36" x2="578.30" y2="55.36" stroke="#000" stroke-width="3" stroke-linecap="butt"/>
<line x1="570.80" y1="112.09" x2="578.30" y2="112.09" stroke="#000" stroke-width="3" stroke-linecap="butt"/>
<line x1="570.80" y1="168.82" x2="578.30" y2="168.82" stroke="#000" stroke-width="3" stroke-linecap="butt"/>
<line x1="570.80" y1="225.55" x2="578.30" y2="225.55" stroke="#000" stroke-width="3" stroke-linecap="butt"/>
<line x1="570.80" y1="282.27" x2="578.30" y2="282.27" stroke="#000" stroke-width="3" stroke-linecap="butt"/>
<line x1="570.80" y1="339.00" x2="578.30" y2="339.00" stroke="#000" stroke-width="3" stroke-linecap="butt"/>
<line x1="573.80" y1="27.00" x2="578.30" y2="27.00" stroke="#000" stroke-width="3" stroke-linecap="butt"/>
<line x1="573.80" y1="83.73" x2="578.30" y2="83.73" stroke="#000" stroke-width="3" stroke-linecap="butt"/>
<line x1="573.80" y1="140.45" x2="578.30" y2="140.45" stroke="#000" stroke-width="3" stroke-linecap="butt"/>
<line x1="573.80" y1="197.18" x2="578.30" y2="197.18" stroke="#000" stroke-width="3" stroke-linecap="butt"/>
<line x1="573.80" y1="253.91" x2="578.30" y2="253.91" stroke="#000" stroke-width="3" stroke-linecap="butt"/>
<line x1="573.80" y1="310.64" x2="578.30" y2="310.64" stroke="#000" stroke-width="3" stroke-linecap="butt"/>
<text x="572.90" y="362.00" font-size="19.3" letter-spacing="0.00" fill="#000" >0</text>
<text x="633.32" y="362.00" font-size="19.3" letter-spacing="-1.20" fill="#000" >500</text>
<text x="698.13" y="362.00" font-size="19.3" letter-spacing="-1.20" fill="#000" >1000</text>
<text x="768.00" y="362.00" font-size="19.3" letter-spacing="-1.20" fill="#000" >1500</text>
<text x="838.12" y="362.00" font-size="19.3" letter-spacing="-1.20" fill="#000" >2000</text>
<text x="907.98" y="362.00" font-size="19.3" letter-spacing="-1.20" fill="#000" >2500</text>
<text x="978.00" y="362.00" font-size="19.3" letter-spacing="-1.20" fill="#000" >3000</text>
<text x="545.20" y="59.86" font-size="19.3" letter-spacing="-1.20" fill="#000" >0.0</text>
<text x="540.00" y="116.59" font-size="19.3" letter-spacing="-1.20" fill="#000" >-0.2</text>
<text x="539.40" y="173.32" font-size="19.3" letter-spacing="-1.20" fill="#000" >-0.4</text>
<text x="540.00" y="230.05" font-size="19.3" letter-spacing="-1.20" fill="#000" >-0.6</text>
<text x="539.80" y="286.77" font-size="19.3" letter-spacing="-1.20" fill="#000" >-0.8</text>
<text x="540.00" y="343.50" font-size="19.3" letter-spacing="-1.20" fill="#000" >-1.0</text>
<text x="747.40" y="390.30" font-size="19.5" letter-spacing="0.07" fill="#000" >Time (s)</text>
<text transform="translate(526.90,287.00) rotate(-90)" x="0" y="0" font-size="19.5" letter-spacing="-0.09" fill="#000" >Potential (V vs. Hg/HgO)</text>
<line x1="859.00" y1="61.00" x2="895.40" y2="61.00" stroke="#e200e8" stroke-width="3.5" stroke-linecap="butt"/>
<text transform="translate(898.93,67.00) scale(0.9,1)" x="0" y="0" font-size="19.6" fill="#000">MCC-6H</text>
<line x1="859.00" y1="79.00" x2="895.40" y2="79.00" stroke="#0000dc" stroke-width="3.5" stroke-linecap="butt"/>
<text transform="translate(898.93,85.00) scale(0.9,1)" x="0" y="0" font-size="19.6" fill="#000">MCC-4H</text>
<line x1="859.00" y1="97.00" x2="895.40" y2="97.00" stroke="#f00008" stroke-width="3.5" stroke-linecap="butt"/>
<text transform="translate(898.93,103.00) scale(0.9,1)" x="0" y="0" font-size="19.6" fill="#000">MCC-2H</text>
<line x1="859.00" y1="115.00" x2="895.40" y2="115.00" stroke="#000" stroke-width="3.5" stroke-linecap="butt"/>
<text transform="translate(898.93,121.00) scale(0.9,1)" x="0" y="0" font-size="19.6" fill="#000">MCC-N</text>
<text x="927.90" y="311.20" font-size="19.3" letter-spacing="0.20" fill="#000" >0.2 A/g</text>
<text x="508.30" y="26.70" font-size="25.5" letter-spacing="0.00" fill="#000" >B</text>
<path d="M81.44,483.40 L104.31,527.00 L142.42,543.69 L218.64,547.52 L447.29,553.91" fill="none" stroke="#000" stroke-width="3.3" stroke-linejoin="round" stroke-linecap="butt"/>
<rect x="77.74" y="479.90" width="7.4" height="7.0" fill="#000"/>
<rect x="100.61" y="523.50" width="7.4" height="7.0" fill="#000"/>
<rect x="138.72" y="540.19" width="7.4" height="7.0" fill="#000"/>
<rect x="214.94" y="544.02" width="7.4" height="7.0" fill="#000"/>
<rect x="443.59" y="550.41" width="7.4" height="7.0" fill="#000"/>
<path d="M81.44,524.97 L104.31,557.27 L142.42,568.73 L218.64,575.91 L447.29,580.98" fill="none" stroke="#f00008" stroke-width="3.3" stroke-linejoin="round" stroke-linecap="butt"/>
<ellipse cx="81.44" cy="524.97" rx="4.2" ry="4.1" fill="#f00008"/>
<ellipse cx="104.31" cy="557.27" rx="4.2" ry="4.1" fill="#f00008"/>
<ellipse cx="142.42" cy="568.73" rx="4.2" ry="4.1" fill="#f00008"/>
<ellipse cx="218.64" cy="575.91" rx="4.2" ry="4.1" fill="#f00008"/>
<ellipse cx="447.29" cy="580.98" rx="4.2" ry="4.1" fill="#f00008"/>
<path d="M81.44,557.27 L104.31,584.18 L142.42,590.81 L218.64,602.27 L447.29,612.10" fill="none" stroke="#0000dc" stroke-width="3.3" stroke-linejoin="round" stroke-linecap="butt"/>
<polygon points="81.44,552.37 76.44,560.57 86.44,560.57" fill="#0000dc"/>
<polygon points="104.31,579.28 99.31,587.48 109.31,587.48" fill="#0000dc"/>
<polygon points="142.42,585.91 137.42,594.11 147.42,594.11" fill="#0000dc"/>
<polygon points="218.64,597.37 213.64,605.57 223.64,605.57" fill="#0000dc"/>
<polygon points="447.29,607.20 442.29,615.40 452.29,615.40" fill="#0000dc"/>
<path d="M81.44,625.36 L104.31,645.41 L142.42,655.78 L218.64,666.47 L447.29,678.48" fill="none" stroke="#e200e8" stroke-width="3.3" stroke-linejoin="round" stroke-linecap="butt"/>
<polygon points="81.44,630.26 76.44,622.06 86.44,622.06" fill="#e200e8"/>
<polygon points="104.31,650.31 99.31,642.11 109.31,642.11" fill="#e200e8"/>
<polygon points="142.42,660.68 137.42,652.48 147.42,652.48" fill="#e200e8"/>
<polygon points="218.64,671.37 213.64,663.17 223.64,663.17" fill="#e200e8"/>
<polygon points="447.29,683.38 442.29,675.18 452.29,675.18" fill="#e200e8"/>
<rect x="66.20" y="405.40" width="419.20" height="312.00" fill="none" stroke="#000" stroke-width="3"/>
<line x1="66.20" y1="717.40" x2="66.20" y2="724.90" stroke="#000" stroke-width="3" stroke-linecap="butt"/>
<line x1="142.42" y1="717.40" x2="142.42" y2="724.90" stroke="#000" stroke-width="3" stroke-linecap="butt"/>
<line x1="218.64" y1="717.40" x2="218.64" y2="724.90" stroke="#000" stroke-width="3" stroke-linecap="butt"/>
<line x1="294.85" y1="717.40" x2="294.85" y2="724.90" stroke="#000" stroke-width="3" stroke-linecap="butt"/>
<line x1="371.07" y1="717.40" x2="371.07" y2="724.90" stroke="#000" stroke-width="3" stroke-linecap="butt"/>
<line x1="447.29" y1="717.40" x2="447.29" y2="724.90" stroke="#000" stroke-width="3" stroke-linecap="butt"/>
<line x1="104.31" y1="717.40" x2="104.31" y2="721.90" stroke="#000" stroke-width="3" stroke-linecap="butt"/>
<line x1="180.53" y1="717.40" x2="180.53" y2="721.90" stroke="#000" stroke-width="3" stroke-linecap="butt"/>
<line x1="256.75" y1="717.40" x2="256.75" y2="721.90" stroke="#000" stroke-width="3" stroke-linecap="butt"/>
<line x1="332.96" y1="717.40" x2="332.96" y2="721.90" stroke="#000" stroke-width="3" stroke-linecap="butt"/>
<line x1="409.18" y1="717.40" x2="409.18" y2="721.90" stroke="#000" stroke-width="3" stroke-linecap="butt"/>
<line x1="485.40" y1="717.40" x2="485.40" y2="721.90" stroke="#000" stroke-width="3" stroke-linecap="butt"/>
<line x1="58.70" y1="717.40" x2="66.20" y2="717.40" stroke="#000" stroke-width="3" stroke-linecap="butt"/>
<line x1="58.70" y1="639.40" x2="66.20" y2="639.40" stroke="#000" stroke-width="3" stroke-linecap="butt"/>
<line x1="58.70" y1="561.40" x2="66.20" y2="561.40" stroke="#000" stroke-width="3" stroke-linecap="butt"/>
<line x1="58.70" y1="483.40" x2="66.20" y2="483.40" stroke="#000" stroke-width="3" stroke-linecap="butt"/>
<line x1="58.70" y1="405.40" x2="66.20" y2="405.40" stroke="#000" stroke-width="3" stroke-linecap="butt"/>
<line x1="61.70" y1="678.40" x2="66.20" y2="678.40" stroke="#000" stroke-width="3" stroke-linecap="butt"/>
<line x1="61.70" y1="600.40" x2="66.20" y2="600.40" stroke="#000" stroke-width="3" stroke-linecap="butt"/>
<line x1="61.70" y1="522.40" x2="66.20" y2="522.40" stroke="#000" stroke-width="3" stroke-linecap="butt"/>
<line x1="61.70" y1="444.40" x2="66.20" y2="444.40" stroke="#000" stroke-width="3" stroke-linecap="butt"/>
<text x="60.80" y="740.50" font-size="19.3" letter-spacing="0.00" fill="#000" >0</text>
<text x="136.72" y="740.50" font-size="19.3" letter-spacing="0.00" fill="#000" >1</text>
<text x="213.29" y="740.50" font-size="19.3" letter-spacing="0.00" fill="#000" >2</text>
<text x="289.65" y="740.50" font-size="19.3" letter-spacing="0.00" fill="#000" >3</text>
<text x="365.62" y="740.50" font-size="19.3" letter-spacing="0.00" fill="#000" >4</text>
<text x="441.89" y="740.50" font-size="19.3" letter-spacing="0.00" fill="#000" >5</text>
<text x="46.90" y="722.00" font-size="19.3" letter-spacing="0.00" fill="#000" >0</text>
<text x="27.80" y="644.00" font-size="19.3" letter-spacing="-1.20" fill="#000" >100</text>
<text x="27.80" y="566.00" font-size="19.3" letter-spacing="-1.20" fill="#000" >200</text>
<text x="27.80" y="488.00" font-size="19.3" letter-spacing="-1.20" fill="#000" >300</text>
<text x="27.80" y="410.00" font-size="19.3" letter-spacing="-1.20" fill="#000" >400</text>
<text x="172.00" y="761.20" font-size="19.5" fill="#000" textLength="202.60" lengthAdjust="spacing">Current density (A g<tspan font-size="10.3" dy="-7.1">-1</tspan><tspan dy="7.1">)</tspan></text>
<text transform="translate(18.20,651.50) rotate(-90)" font-size="19.5" fill="#000" textLength="171.50" lengthAdjust="spacing">Capacitance (F g<tspan font-size="10.3" dy="-7.1">-1</tspan><tspan dy="7.1">)</tspan></text>
<line x1="340.00" y1="447.60" x2="375.40" y2="447.60" stroke="#000" stroke-width="3" stroke-linecap="butt"/>
<rect x="354.10" y="444.10" width="7.4" height="7.0" fill="#000"/>
<text transform="translate(378.63,453.70) scale(0.9,1)" x="0" y="0" font-size="19.6" fill="#000">MCC-6H</text>
<line x1="340.00" y1="465.60" x2="375.40" y2="465.60" stroke="#f00008" stroke-width="3" stroke-linecap="butt"/>
<ellipse cx="357.80" cy="465.60" rx="4.2" ry="4.1" fill="#f00008"/>
<text transform="translate(378.63,471.70) scale(0.9,1)" x="0" y="0" font-size="19.6" fill="#000">MCC-4H</text>
<line x1="340.00" y1="483.60" x2="375.40" y2="483.60" stroke="#0000dc" stroke-width="3" stroke-linecap="butt"/>
<polygon points="357.80,478.70 352.80,486.90 362.80,486.90" fill="#0000dc"/>
<text transform="translate(378.63,489.70) scale(0.9,1)" x="0" y="0" font-size="19.6" fill="#000">MCC-2H</text>
<line x1="340.00" y1="501.60" x2="375.40" y2="501.60" stroke="#e200e8" stroke-width="3" stroke-linecap="butt"/>
<polygon points="357.80,506.50 352.80,498.30 362.80,498.30" fill="#e200e8"/>
<text transform="translate(378.63,507.70) scale(0.9,1)" x="0" y="0" font-size="19.6" fill="#000">MCC-N</text>
<text x="4.30" y="405.50" font-size="25.5" letter-spacing="0.00" fill="#000" >C</text>
<rect x="579.60" y="405.80" width="419.10" height="309.40" fill="none" stroke="#000" stroke-width="3"/>
<clipPath id="clipD"><rect x="579.00" y="405.80" width="419.70" height="309.40"/></clipPath>
<g clip-path="url(#clipD)">
<path d="M579.60,432.20 L600.56,430.50 L621.51,430.50 L642.47,431.80 L663.42,430.50 L684.38,432.60 L705.33,429.60 L726.29,431.10 L747.24,429.60 L768.20,430.50 L789.15,430.50 L810.11,430.50 L831.06,430.50 L852.02,429.60 L872.97,430.50 L893.92,431.80 L914.88,432.60 L935.84,432.60 L956.79,430.00 L977.75,430.50 L998.70,431.10" fill="none" stroke="#f00008" stroke-width="3.4" stroke-linejoin="round" stroke-linecap="butt"/>
<rect x="575.60" y="428.50" width="8" height="7.4" fill="#f00008"/>
<rect x="596.56" y="426.80" width="8" height="7.4" fill="#f00008"/>
<rect x="617.51" y="426.80" width="8" height="7.4" fill="#f00008"/>
<rect x="638.47" y="428.10" width="8" height="7.4" fill="#f00008"/>
<rect x="659.42" y="426.80" width="8" height="7.4" fill="#f00008"/>
<rect x="680.38" y="428.90" width="8" height="7.4" fill="#f00008"/>
<rect x="701.33" y="425.90" width="8" height="7.4" fill="#f00008"/>
<rect x="722.29" y="427.40" width="8" height="7.4" fill="#f00008"/>
<rect x="743.24" y="425.90" width="8" height="7.4" fill="#f00008"/>
<rect x="764.20" y="426.80" width="8" height="7.4" fill="#f00008"/>
<rect x="785.15" y="426.80" width="8" height="7.4" fill="#f00008"/>
<rect x="806.11" y="426.80" width="8" height="7.4" fill="#f00008"/>
<rect x="827.06" y="426.80" width="8" height="7.4" fill="#f00008"/>
<rect x="848.02" y="425.90" width="8" height="7.4" fill="#f00008"/>
<rect x="868.97" y="426.80" width="8" height="7.4" fill="#f00008"/>
<rect x="889.92" y="428.10" width="8" height="7.4" fill="#f00008"/>
<rect x="910.88" y="428.90" width="8" height="7.4" fill="#f00008"/>
<rect x="931.84" y="428.90" width="8" height="7.4" fill="#f00008"/>
<rect x="952.79" y="426.30" width="8" height="7.4" fill="#f00008"/>
<rect x="973.75" y="426.80" width="8" height="7.4" fill="#f00008"/>
<rect x="994.70" y="427.40" width="8" height="7.4" fill="#f00008"/>
</g>
<line x1="579.60" y1="715.20" x2="579.60" y2="722.70" stroke="#000" stroke-width="3" stroke-linecap="butt"/>
<line x1="663.42" y1="715.20" x2="663.42" y2="722.70" stroke="#000" stroke-width="3" stroke-linecap="butt"/>
<line x1="747.24" y1="715.20" x2="747.24" y2="722.70" stroke="#000" stroke-width="3" stroke-linecap="butt"/>
<line x1="831.06" y1="715.20" x2="831.06" y2="722.70" stroke="#000" stroke-width="3" stroke-linecap="butt"/>
<line x1="914.88" y1="715.20" x2="914.88" y2="722.70" stroke="#000" stroke-width="3" stroke-linecap="butt"/>
<line x1="998.70" y1="715.20" x2="998.70" y2="722.70" stroke="#000" stroke-width="3" stroke-linecap="butt"/>
<line x1="621.51" y1="715.20" x2="621.51" y2="719.70" stroke="#000" stroke-width="3" stroke-linecap="butt"/>
<line x1="705.33" y1="715.20" x2="705.33" y2="719.70" stroke="#000" stroke-width="3" stroke-linecap="butt"/>
<line x1="789.15" y1="715.20" x2="789.15" y2="719.70" stroke="#000" stroke-width="3" stroke-linecap="butt"/>
<line x1="872.97" y1="715.20" x2="872.97" y2="719.70" stroke="#000" stroke-width="3" stroke-linecap="butt"/>
<line x1="956.79" y1="715.20" x2="956.79" y2="719.70" stroke="#000" stroke-width="3" stroke-linecap="butt"/>
<line x1="572.10" y1="715.20" x2="579.60" y2="715.20" stroke="#000" stroke-width="3" stroke-linecap="butt"/>
<line x1="572.10" y1="658.95" x2="579.60" y2="658.95" stroke="#000" stroke-width="3" stroke-linecap="butt"/>
<line x1="572.10" y1="602.69" x2="579.60" y2="602.69" stroke="#000" stroke-width="3" stroke-linecap="butt"/>
<line x1="572.10" y1="546.44" x2="579.60" y2="546.44" stroke="#000" stroke-width="3" stroke-linecap="butt"/>
<line x1="572.10" y1="490.18" x2="579.60" y2="490.18" stroke="#000" stroke-width="3" stroke-linecap="butt"/>
<line x1="572.10" y1="433.93" x2="579.60" y2="433.93" stroke="#000" stroke-width="3" stroke-linecap="butt"/>
<line x1="575.10" y1="687.07" x2="579.60" y2="687.07" stroke="#000" stroke-width="3" stroke-linecap="butt"/>
<line x1="575.10" y1="630.82" x2="579.60" y2="630.82" stroke="#000" stroke-width="3" stroke-linecap="butt"/>
<line x1="575.10" y1="574.56" x2="579.60" y2="574.56" stroke="#000" stroke-width="3" stroke-linecap="butt"/>
<line x1="575.10" y1="518.31" x2="579.60" y2="518.31" stroke="#000" stroke-width="3" stroke-linecap="butt"/>
<line x1="575.10" y1="462.05" x2="579.60" y2="462.05" stroke="#000" stroke-width="3" stroke-linecap="butt"/>
<line x1="575.10" y1="405.80" x2="579.60" y2="405.80" stroke="#000" stroke-width="3" stroke-linecap="butt"/>
<text x="574.20" y="738.00" font-size="19.3" letter-spacing="0.00" fill="#000" >0</text>
<text x="642.55" y="738.00" font-size="19.3" letter-spacing="-0.55" fill="#000" >1000</text>
<text x="726.62" y="738.00" font-size="19.3" letter-spacing="-0.55" fill="#000" >2000</text>
<text x="810.59" y="738.00" font-size="19.3" letter-spacing="-0.55" fill="#000" >3000</text>
<text x="894.46" y="738.00" font-size="19.3" letter-spacing="-0.55" fill="#000" >4000</text>
<text x="978.12" y="738.00" font-size="19.3" letter-spacing="-0.55" fill="#000" >5000</text>
<text x="559.20" y="719.40" font-size="19.3" letter-spacing="0.00" fill="#000" >0</text>
<text x="549.10" y="663.15" font-size="19.3" letter-spacing="-0.60" fill="#000" >20</text>
<text x="549.10" y="606.89" font-size="19.3" letter-spacing="-0.60" fill="#000" >40</text>
<text x="549.10" y="550.64" font-size="19.3" letter-spacing="-0.60" fill="#000" >60</text>
<text x="549.10" y="494.38" font-size="19.3" letter-spacing="-0.60" fill="#000" >80</text>
<text x="538.90" y="438.13" font-size="19.3" letter-spacing="-0.60" fill="#000" >100</text>
<text x="724.50" y="762.00" font-size="19.5" letter-spacing="-0.02" fill="#000" >Cycle number</text>
<text transform="translate(531.00,681.10) rotate(-90)" x="0" y="0" font-size="19.5" letter-spacing="-0.08" fill="#000" >Capacitance rentention (%)</text>
<text x="935.40" y="697.80" font-size="19.3" letter-spacing="0.47" fill="#000" >5 A/g</text>
<text x="514.40" y="405.50" font-size="25.5" letter-spacing="0.00" fill="#000" >D</text>
<path d="M652.90,663.50 L653.77,662.44 L654.64,661.37 L655.51,660.31 L656.38,659.24 L657.25,658.18 L658.12,657.11 L658.99,656.04 L659.86,654.98 L660.73,653.91 L661.60,652.84 L662.46,651.77 L663.33,650.70 L664.19,649.63 L665.06,648.55 L665.92,647.48 L666.79,646.41 L667.65,645.33 L668.51,644.26 L669.37,643.18 L670.23,642.10 L671.09,641.03 L671.95,639.95 L672.81,638.87 L673.67,637.79 L674.53,636.71 L675.38,635.63 L676.24,634.55 L677.09,633.46 L677.95,632.38 L678.80,631.29 L679.65,630.21 L680.50,629.12 L681.35,628.04 L682.20,626.95 L683.05,625.86 L683.90,624.77 L684.75,623.68 L685.59,622.59 L686.44,621.50 L687.28,620.40 L688.12,619.31 L688.97,618.21 L689.81,617.12 L690.65,616.02 L691.48,614.92 L692.32,613.83 L693.16,612.73 L693.99,611.63 L694.83,610.53 L695.66,609.42 L696.50,608.32 L697.33,607.22 L698.16,606.11 L698.99,605.01 L699.81,603.90 L700.64,602.79 L701.47,601.68 L702.29,600.57 L703.11,599.46 L703.94,598.35 L704.76,597.24 L705.58,596.13 L706.39,595.01 L707.21,593.90 L708.03,592.78 L708.84,591.66 L709.65,590.55 L710.47,589.43 L711.28,588.31 L712.08,587.19 L712.89,586.06 L713.70,584.94 L714.50,583.82 L715.31,582.69 L716.11,581.56 L716.91,580.44 L717.71,579.31 L718.51,578.18 L719.30,577.05 L720.10,575.92 L720.89,574.78 L721.67,573.64 L722.45,572.50 L723.22,571.35 L724.00,570.21 L724.77,569.06 L725.54,567.91 L726.31,566.76 L727.08,565.61 L727.85,564.46 L728.61,563.31 L729.38,562.16 L730.14,561.00 L730.90,559.85 L731.66,558.69 L732.41,557.53 L733.17,556.37 L733.92,555.21 L734.67,554.05 L735.42,552.89 L736.17,551.73 L736.92,550.56 L737.66,549.40 L738.41,548.23 L739.15,547.06 L739.89,545.89 L740.63,544.72 L741.36,543.55 L742.09,542.38 L742.83,541.20 L743.56,540.03 L744.29,538.85 L745.01,537.67 L745.74,536.49 L746.46,535.31 L747.18,534.13 L747.90,532.95 L748.62,531.76 L749.33,530.58 L750.04,529.39 L750.75,528.20 L751.46,527.01 L752.17,525.82 L752.87,524.63 L753.58,523.44 L754.28,522.24 L754.98,521.05 L755.67,519.85 L756.37,518.65 L757.06,517.45 L757.75,516.25 L758.44,515.05 L759.12,513.84 L759.81,512.64 L760.49,511.43 L761.17,510.22 L761.85,509.01 L762.52,507.80 L763.19,506.59 L763.87,505.38 L764.53,504.16 L765.20,502.95 L765.86,501.73 L766.53,500.51 L767.18,499.29 L767.84,498.07 L768.50,496.85 L769.15,495.62 L769.80,494.40 L771.20,494.60 L771.27,496.06 L771.35,497.51 L771.45,498.96 L771.59,500.41 L771.75,501.84 L771.95,503.27 L772.20,504.68 L772.49,506.07 L772.82,507.45 L773.19,508.82 L773.59,510.18 L774.03,511.52 L774.49,512.86 L774.98,514.19 L775.49,515.52 L776.02,516.83 L776.56,518.14 L777.12,519.45 L777.68,520.76 L778.26,522.06 L778.83,523.37 L779.41,524.67 L779.98,525.98 L780.54,527.29 L781.11,528.60 L781.66,529.92 L782.23,531.22 L782.79,532.52 L783.35,533.83 L783.91,535.13 L784.46,536.44 L785.02,537.74 L785.57,539.05 L786.12,540.36 L786.67,541.67 L787.22,542.97 L787.77,544.28 L788.32,545.59 L788.87,546.89 L789.43,548.19 L789.98,549.50 L790.54,550.80 L791.10,552.10 L791.66,553.40 L792.23,554.69 L792.80,555.99 L793.38,557.28 L793.96,558.56 L794.54,559.85 L795.13,561.13 L795.73,562.41 L796.33,563.68 L796.94,564.95 L797.56,566.22 L798.18,567.48 L798.81,568.74 L799.45,569.99 L800.10,571.24 L800.75,572.48 L801.42,573.72 L802.10,574.95 L802.78,576.18 L803.48,577.40 L804.19,578.61 L804.90,579.82 L805.63,581.02 L806.37,582.22 L807.12,583.41 L807.88,584.59 L808.64,585.77 L809.42,586.94 L810.21,588.11 L811.00,589.27 L811.81,590.42 L812.62,591.57 L813.45,592.71 L814.28,593.85 L815.12,594.99 L815.97,596.11 L816.83,597.23 L817.69,598.35 L818.56,599.46 L819.45,600.57 L820.34,601.67 L821.23,602.76 L822.14,603.85 L823.05,604.93 L823.97,606.01 L824.90,607.09 L825.83,608.15 L826.77,609.22 L827.72,610.28 L828.67,611.33 L829.63,612.38 L830.60,613.42 L831.57,614.46 L832.55,615.50 L833.54,616.52 L834.53,617.55 L835.52,618.57 L836.53,619.58 L837.53,620.59 L838.55,621.60 L839.56,622.60 L840.59,623.60 L841.62,624.59 L842.65,625.58 L843.69,626.56 L844.73,627.54 L845.77,628.51 L846.82,629.48 L847.88,630.45 L848.93,631.41 L850.00,632.37 L851.06,633.32 L852.13,634.27 L853.20,635.21 L854.28,636.15 L855.36,637.09 L856.44,638.02 L857.52,638.95 L858.61,639.88 L859.70,640.80 L860.79,641.71 L861.89,642.63 L862.99,643.54 L864.08,644.44 L865.18,645.34 L866.29,646.24 L867.39,647.14 L868.50,648.03 L869.60,648.92 L870.71,649.80 L871.82,650.68 L872.93,651.56 L874.04,652.43 L875.15,653.30 L876.27,654.17 L877.38,655.03 L878.49,655.89 L879.61,656.75 L880.72,657.61 L881.83,658.46 L882.94,659.31 L884.06,660.15 L885.17,660.99 L886.28,661.83 L887.39,662.67 L888.50,663.50" fill="none" stroke="#000" stroke-width="3.2" stroke-linejoin="miter" stroke-linecap="butt"/>
<path d="M652.90,663.50 L653.77,662.44 L654.64,661.37 L655.51,660.31 L656.38,659.24 L657.25,658.18 L658.12,657.11 L658.99,656.04 L659.86,654.98 L660.73,653.91 L661.60,652.84 L662.46,651.77 L663.33,650.70 L664.19,649.63 L665.06,648.55 L665.92,647.48 L666.79,646.41 L667.65,645.33 L668.51,644.26 L669.37,643.18 L670.23,642.10 L671.09,641.03 L671.95,639.95 L672.81,638.87 L673.67,637.79 L674.53,636.71 L675.38,635.63 L676.24,634.55 L677.09,633.46 L677.95,632.38 L678.80,631.29 L679.65,630.21 L680.50,629.12 L681.35,628.04 L682.20,626.95 L683.05,625.86 L683.90,624.77 L684.75,623.68 L685.59,622.59 L686.44,621.50 L687.28,620.40 L688.12,619.31 L688.97,618.21 L689.81,617.12 L690.65,616.02 L691.48,614.92 L692.32,613.83 L693.16,612.73 L693.99,611.63 L694.83,610.53 L695.66,609.42 L696.50,608.32 L697.33,607.22 L698.16,606.11 L698.99,605.01 L699.81,603.90 L700.64,602.79 L701.47,601.68 L702.29,600.57 L703.11,599.46 L703.94,598.35 L704.76,597.24 L705.58,596.13 L706.39,595.01 L707.21,593.90 L708.03,592.78 L708.84,591.66 L709.65,590.55 L710.47,589.43 L711.28,588.31 L712.08,587.19 L712.89,586.06 L713.70,584.94 L714.50,583.82 L715.31,582.69 L716.11,581.56 L716.91,580.44 L717.71,579.31 L718.51,578.18 L719.30,577.05 L720.10,575.92 L720.89,574.78 L721.68,573.65 L722.47,572.52 L723.26,571.38 L724.05,570.24 L724.84,569.10 L725.62,567.97 L726.40,566.83 L727.19,565.68 L727.97,564.54 L728.74,563.40 L729.52,562.25 L730.29,561.11 L731.07,559.96 L731.84,558.81 L732.61,557.66 L733.38,556.51 L734.14,555.36 L734.91,554.21 L735.67,553.06 L736.43,551.90 L737.19,550.74 L737.95,549.59 L738.71,548.43 L739.46,547.27 L740.21,546.11 L740.96,544.95 L741.71,543.78 L742.46,542.62 L743.20,541.45 L743.95,540.29 L744.69,539.12 L745.43,537.95 L746.17,536.78 L746.90,535.61 L747.64,534.43 L748.37,533.26 L749.10,532.08 L749.83,530.91 L750.55,529.73 L751.28,528.55 L752.00,527.37 L752.72,526.19 L753.44,525.00 L754.15,523.82 L754.87,522.63 L755.58,521.45 L756.29,520.26 L757.00,519.07 L757.70,517.88 L758.41,516.69 L759.11,515.49 L759.81,514.30 L760.50,513.10 L761.20,511.90 L761.89,510.71 L762.58,509.51 L763.27,508.30 L763.96,507.10 L764.64,505.90 L765.32,504.69 L766.00,503.49 L766.68,502.28 L767.36,501.07 L768.03,499.86 L768.70,498.64 L769.37,497.43 L770.03,496.22 L770.70,495.00 L770.90,495.00 L770.98,496.44 L771.07,497.88 L771.19,499.31 L771.34,500.74 L771.51,502.16 L771.73,503.57 L771.98,504.96 L772.29,506.34 L772.63,507.71 L773.01,509.06 L773.42,510.40 L773.87,511.73 L774.34,513.06 L774.84,514.37 L775.36,515.68 L775.90,516.98 L776.46,518.28 L777.03,519.57 L777.60,520.86 L778.19,522.15 L778.77,523.44 L779.36,524.73 L779.94,526.03 L780.52,527.32 L781.09,528.62 L781.66,529.92 L782.23,531.22 L782.79,532.52 L783.35,533.83 L783.91,535.13 L784.46,536.44 L785.02,537.74 L785.57,539.05 L786.12,540.36 L786.67,541.67 L787.22,542.97 L787.77,544.28 L788.32,545.59 L788.87,546.89 L789.43,548.19 L789.98,549.50 L790.54,550.80 L791.10,552.10 L791.66,553.40 L792.23,554.69 L792.80,555.99 L793.38,557.28 L793.96,558.56 L794.54,559.85 L795.13,561.13 L795.73,562.41 L796.33,563.68 L796.94,564.95 L797.56,566.22 L798.18,567.48 L798.81,568.74 L799.45,569.99 L800.10,571.24 L800.75,572.48 L801.42,573.72 L802.10,574.95 L802.78,576.18 L803.48,577.40 L804.19,578.61 L804.90,579.82 L805.63,581.02 L806.37,582.22 L807.12,583.41 L807.88,584.59 L808.64,585.77 L809.42,586.94 L810.21,588.11 L811.00,589.27 L811.81,590.42 L812.62,591.57 L813.45,592.71 L814.28,593.85 L815.12,594.99 L815.97,596.11 L816.83,597.23 L817.69,598.35 L818.56,599.46 L819.45,600.57 L820.34,601.67 L821.23,602.76 L822.14,603.85 L823.05,604.93 L823.97,606.01 L824.90,607.09 L825.83,608.15 L826.77,609.22 L827.72,610.28 L828.67,611.33 L829.63,612.38 L830.60,613.42 L831.57,614.46 L832.55,615.50 L833.54,616.52 L834.53,617.55 L835.52,618.57 L836.53,619.58 L837.53,620.59 L838.55,621.60 L839.56,622.60 L840.59,623.60 L841.62,624.59 L842.65,625.58 L843.69,626.56 L844.73,627.54 L845.77,628.51 L846.82,629.48 L847.88,630.45 L848.93,631.41 L850.00,632.37 L851.06,633.32 L852.13,634.27 L853.20,635.21 L854.28,636.15 L855.36,637.09 L856.44,638.02 L857.52,638.95 L858.61,639.88 L859.70,640.80 L860.79,641.71 L861.89,642.63 L862.99,643.54 L864.08,644.44 L865.18,645.34 L866.29,646.24 L867.39,647.14 L868.50,648.03 L869.60,648.92 L870.71,649.80 L871.82,650.68 L872.93,651.56 L874.04,652.43 L875.15,653.30 L876.27,654.17 L877.38,655.03 L878.49,655.89 L879.61,656.75 L880.72,657.61 L881.83,658.46 L882.94,659.31 L884.06,660.15 L885.17,660.99 L886.28,661.83 L887.39,662.67 L888.50,663.50" fill="none" stroke="#f00008" stroke-width="3.2" stroke-linejoin="miter" stroke-linecap="butt"/>
<rect x="653.20" y="479.80" width="248.30" height="183.70" fill="none" stroke="#000" stroke-width="3"/>
<line x1="653.20" y1="663.50" x2="653.20" y2="669.00" stroke="#000" stroke-width="3" stroke-linecap="butt"/>
<line x1="686.31" y1="663.50" x2="686.31" y2="669.00" stroke="#000" stroke-width="3" stroke-linecap="butt"/>
<line x1="719.41" y1="663.50" x2="719.41" y2="669.00" stroke="#000" stroke-width="3" stroke-linecap="butt"/>
<line x1="752.52" y1="663.50" x2="752.52" y2="669.00" stroke="#000" stroke-width="3" stroke-linecap="butt"/>
<line x1="785.63" y1="663.50" x2="785.63" y2="669.00" stroke="#000" stroke-width="3" stroke-linecap="butt"/>
<line x1="818.73" y1="663.50" x2="818.73" y2="669.00" stroke="#000" stroke-width="3" stroke-linecap="butt"/>
<line x1="851.84" y1="663.50" x2="851.84" y2="669.00" stroke="#000" stroke-width="3" stroke-linecap="butt"/>
<line x1="884.95" y1="663.50" x2="884.95" y2="669.00" stroke="#000" stroke-width="3" stroke-linecap="butt"/>
<line x1="669.75" y1="663.50" x2="669.75" y2="667.50" stroke="#000" stroke-width="3" stroke-linecap="butt"/>
<line x1="702.86" y1="663.50" x2="702.86" y2="667.50" stroke="#000" stroke-width="3" stroke-linecap="butt"/>
<line x1="735.97" y1="663.50" x2="735.97" y2="667.50" stroke="#000" stroke-width="3" stroke-linecap="butt"/>
<line x1="769.07" y1="663.50" x2="769.07" y2="667.50" stroke="#000" stroke-width="3" stroke-linecap="butt"/>
<line x1="802.18" y1="663.50" x2="802.18" y2="667.50" stroke="#000" stroke-width="3" stroke-linecap="butt"/>
<line x1="835.29" y1="663.50" x2="835.29" y2="667.50" stroke="#000" stroke-width="3" stroke-linecap="butt"/>
<line x1="868.39" y1="663.50" x2="868.39" y2="667.50" stroke="#000" stroke-width="3" stroke-linecap="butt"/>
<line x1="901.50" y1="663.50" x2="901.50" y2="667.50" stroke="#000" stroke-width="3" stroke-linecap="butt"/>
<line x1="647.70" y1="496.50" x2="653.20" y2="496.50" stroke="#000" stroke-width="3" stroke-linecap="butt"/>
<line x1="647.70" y1="529.90" x2="653.20" y2="529.90" stroke="#000" stroke-width="3" stroke-linecap="butt"/>
<line x1="647.70" y1="563.30" x2="653.20" y2="563.30" stroke="#000" stroke-width="3" stroke-linecap="butt"/>
<line x1="647.70" y1="596.70" x2="653.20" y2="596.70" stroke="#000" stroke-width="3" stroke-linecap="butt"/>
<line x1="647.70" y1="630.10" x2="653.20" y2="630.10" stroke="#000" stroke-width="3" stroke-linecap="butt"/>
<line x1="647.70" y1="663.50" x2="653.20" y2="663.50" stroke="#000" stroke-width="3" stroke-linecap="butt"/>
<line x1="649.20" y1="479.80" x2="653.20" y2="479.80" stroke="#000" stroke-width="3" stroke-linecap="butt"/>
<line x1="649.20" y1="513.20" x2="653.20" y2="513.20" stroke="#000" stroke-width="3" stroke-linecap="butt"/>
<line x1="649.20" y1="546.60" x2="653.20" y2="546.60" stroke="#000" stroke-width="3" stroke-linecap="butt"/>
<line x1="649.20" y1="580.00" x2="653.20" y2="580.00" stroke="#000" stroke-width="3" stroke-linecap="butt"/>
<line x1="649.20" y1="613.40" x2="653.20" y2="613.40" stroke="#000" stroke-width="3" stroke-linecap="butt"/>
<line x1="649.20" y1="646.80" x2="653.20" y2="646.80" stroke="#000" stroke-width="3" stroke-linecap="butt"/>
<text x="648.65" y="685.80" font-size="18.6" letter-spacing="0.00" fill="#000" >0</text>
<text x="678.21" y="685.80" font-size="18.6" letter-spacing="-1.90" fill="#000" >10</text>
<text x="711.61" y="685.80" font-size="18.6" letter-spacing="-1.90" fill="#000" >20</text>
<text x="744.82" y="685.80" font-size="18.6" letter-spacing="-1.90" fill="#000" >30</text>
<text x="777.98" y="685.80" font-size="18.6" letter-spacing="-1.90" fill="#000" >40</text>
<text x="810.93" y="685.80" font-size="18.6" letter-spacing="-1.90" fill="#000" >50</text>
<text x="843.99" y="685.80" font-size="18.6" letter-spacing="-1.90" fill="#000" >60</text>
<text x="877.05" y="685.80" font-size="18.6" letter-spacing="-1.90" fill="#000" >70</text>
<text x="620.25" y="503.10" font-size="19.3" letter-spacing="-1.20" fill="#000" >0.0</text>
<text x="617.70" y="536.50" font-size="19.3" letter-spacing="-1.20" fill="#000" >-0.2</text>
<text x="617.40" y="569.90" font-size="19.3" letter-spacing="-1.20" fill="#000" >-0.4</text>
<text x="617.70" y="603.30" font-size="19.3" letter-spacing="-1.20" fill="#000" >-0.6</text>
<text x="617.60" y="636.70" font-size="19.3" letter-spacing="-1.20" fill="#000" >-0.8</text>
<text x="617.70" y="670.10" font-size="19.3" letter-spacing="-1.20" fill="#000" >-1.0</text>
<text x="750.70" y="703.30" font-size="19.5" letter-spacing="-0.10" fill="#000" >Time (s)</text>
<text transform="translate(608.60,636.30) rotate(-90)" x="0" y="0" font-size="19.5" letter-spacing="-0.26" fill="#000" >Potential (V)</text>
<line x1="806.00" y1="505.90" x2="828.80" y2="505.90" stroke="#000" stroke-width="3.5" stroke-linecap="butt"/>
<line x1="806.00" y1="527.10" x2="828.80" y2="527.10" stroke="#f00008" stroke-width="3.5" stroke-linecap="butt"/>
<text x="831.50" y="513.20" font-size="19.3" letter-spacing="-0.30" fill="#000" >1st</text>
<text x="831.60" y="534.10" font-size="19.3" letter-spacing="0.04" fill="#000" >5000th</text>
</svg>
</body></html>
